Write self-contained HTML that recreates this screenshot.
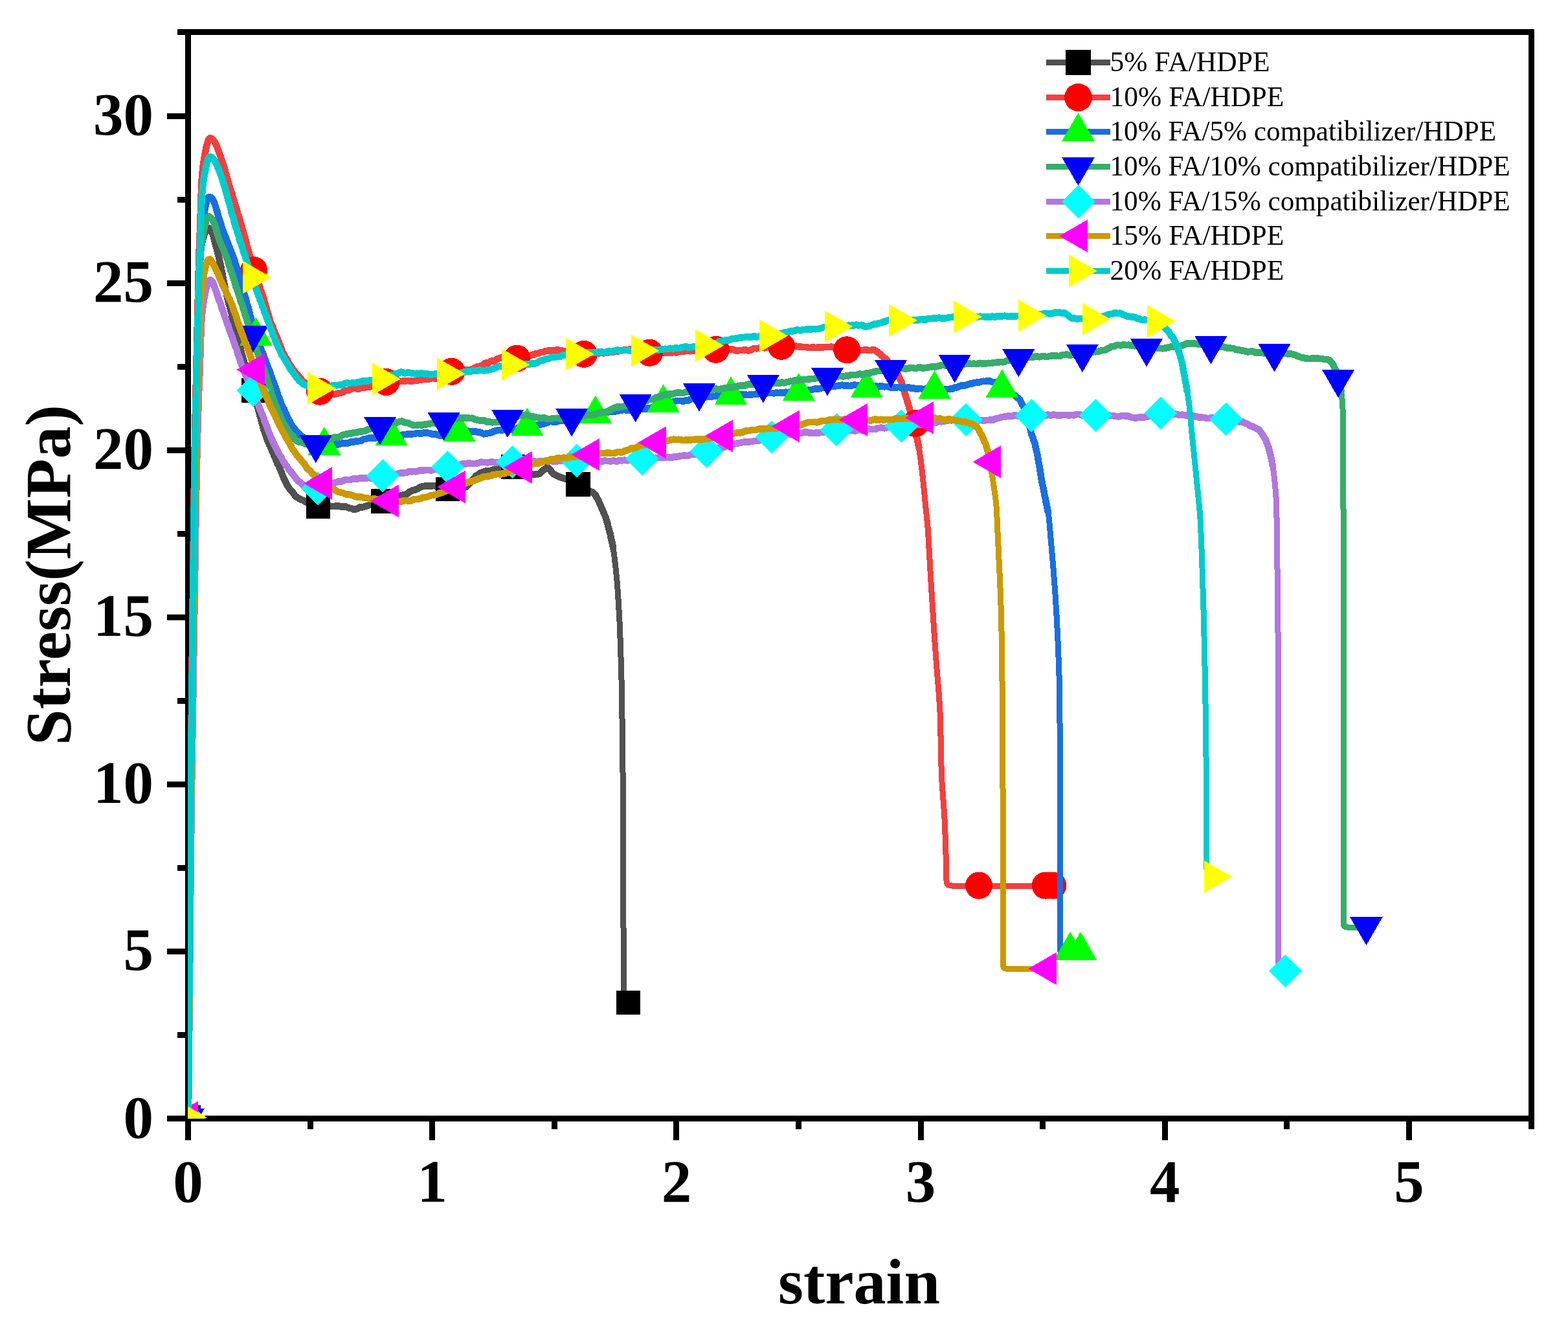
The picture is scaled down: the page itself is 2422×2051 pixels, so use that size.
<!DOCTYPE html>
<html lang="en"><head><meta charset="utf-8"><title>Stress-strain curves of FA/HDPE composites</title>
<style>
html,body{margin:0;padding:0;background:#fff;}
body{width:2422px;height:2051px;overflow:hidden;}
svg{display:block;}
text{font-family:"Liberation Serif","DejaVu Serif",serif;fill:#000;}
.tick{font-weight:bold;font-size:93px;}
.title{font-weight:bold;font-size:100px;}
.leg{font-size:44px;}
</style></head><body>
<svg width="2422" height="2051" viewBox="0 0 2422 2051" shape-rendering="crispEdges">
<rect width="2422" height="2051" fill="#fff"/>
<g stroke="#000" stroke-width="9" fill="none" stroke-linecap="butt">
<line x1="290.5" y1="45.0" x2="290.5" y2="1761.0"/>
<line x1="2365.5" y1="45.0" x2="2365.5" y2="1744.0"/>
<line x1="274.0" y1="49.5" x2="2370.0" y2="49.5"/>
<line x1="258.0" y1="1727.5" x2="2370.0" y2="1727.5"/>
<line x1="667.7" y1="1727.5" x2="667.7" y2="1761.0"/>
<line x1="1044.9" y1="1727.5" x2="1044.9" y2="1761.0"/>
<line x1="1422.1" y1="1727.5" x2="1422.1" y2="1761.0"/>
<line x1="1799.3" y1="1727.5" x2="1799.3" y2="1761.0"/>
<line x1="2176.5" y1="1727.5" x2="2176.5" y2="1761.0"/>
<line x1="479.1" y1="1727.5" x2="479.1" y2="1744.0"/>
<line x1="856.3" y1="1727.5" x2="856.3" y2="1744.0"/>
<line x1="1233.5" y1="1727.5" x2="1233.5" y2="1744.0"/>
<line x1="1610.7" y1="1727.5" x2="1610.7" y2="1744.0"/>
<line x1="1987.9" y1="1727.5" x2="1987.9" y2="1744.0"/>
<line x1="258.0" y1="1469.4" x2="290.5" y2="1469.4"/>
<line x1="258.0" y1="1211.3" x2="290.5" y2="1211.3"/>
<line x1="258.0" y1="953.2" x2="290.5" y2="953.2"/>
<line x1="258.0" y1="695.2" x2="290.5" y2="695.2"/>
<line x1="258.0" y1="437.1" x2="290.5" y2="437.1"/>
<line x1="258.0" y1="179.0" x2="290.5" y2="179.0"/>
<line x1="274.0" y1="1598.5" x2="290.5" y2="1598.5"/>
<line x1="274.0" y1="1340.4" x2="290.5" y2="1340.4"/>
<line x1="274.0" y1="1082.3" x2="290.5" y2="1082.3"/>
<line x1="274.0" y1="824.2" x2="290.5" y2="824.2"/>
<line x1="274.0" y1="566.1" x2="290.5" y2="566.1"/>
<line x1="274.0" y1="308.0" x2="290.5" y2="308.0"/>
</g>
<g class="tick" shape-rendering="auto">
<text x="290.5" y="1855.5" text-anchor="middle">0</text>
<text x="667.7" y="1855.5" text-anchor="middle">1</text>
<text x="1044.9" y="1855.5" text-anchor="middle">2</text>
<text x="1422.1" y="1855.5" text-anchor="middle">3</text>
<text x="1799.3" y="1855.5" text-anchor="middle">4</text>
<text x="2176.5" y="1855.5" text-anchor="middle">5</text>
<text x="237" y="1756.5" text-anchor="end">0</text>
<text x="237" y="1498.4" text-anchor="end">5</text>
<text x="237" y="1240.3" text-anchor="end">10</text>
<text x="237" y="982.2" text-anchor="end">15</text>
<text x="237" y="724.2" text-anchor="end">20</text>
<text x="237" y="466.1" text-anchor="end">25</text>
<text x="237" y="208.0" text-anchor="end">30</text>
</g>
<g class="title" shape-rendering="auto">
<text x="1327" y="2013" text-anchor="middle">strain</text>
<text transform="translate(107.5 888) rotate(-90)" text-anchor="middle">Stress(MPa)</text>
</g>
<defs><clipPath id="clip"><rect x="290.0" y="49.5" width="2075.5" height="1678.0"/></clipPath></defs>
<g clip-path="url(#clip)">
<polyline points="946.7,844.1 947.0,846.3 947.3,848.2 947.7,850.2 948.0,852.0 948.3,853.9 948.5,855.9 950.7,873.8 952.9,895.7 954.0,909.7 955.8,937.6 957.0,959.6 958.1,987.6 959.3,1023.6 960.1,1053.6 960.6,1081.6 961.4,1135.6 962.2,1209.6 963.4,1537.8 963.5,1539.9 963.5,1541.8 963.5,1543.8 963.5,1545.9 963.5,1547.8 964.5,1548.3 966.5,1548.4 968.5,1548.6 970.5,1548.8" fill="none" stroke="#515151" stroke-width="9" stroke-linejoin="round" stroke-linecap="butt" shape-rendering="crispEdges"/>
<polyline points="290.5,1727.5 290.7,1727.3 290.9,1717.3 291.3,1675.3 293.8,1321.2 294.5,1239.1 299.4,813.0 300.4,739.0 302.3,642.9 304.6,538.9 305.1,524.9 306.0,506.9 306.4,494.9 306.5,482.9 306.5,434.9 306.8,418.9 307.2,408.9 308.0,400.9 309.2,391.0 310.8,381.1 312.9,371.4 315.1,363.7 316.4,359.9 317.1,358.0 318.0,356.2 319.0,354.5 320.2,353.0 322.0,352.0 323.8,352.6 325.1,354.1 326.1,355.8 327.0,357.6 328.5,361.4 329.7,365.2 332.7,376.8 333.2,378.7 333.7,380.6 334.3,382.5 334.8,384.4 335.3,386.6 335.8,388.8 336.4,390.6 336.9,392.5 337.4,394.4 337.9,396.1 338.3,397.6 338.8,399.9 339.2,402.5 339.7,404.5 340.1,406.3 340.5,408.0 340.9,410.0 341.3,411.9 341.6,413.4 342.0,415.8 342.4,418.3 342.8,419.7 343.2,421.4 343.5,423.6 343.9,425.5 344.3,427.6 344.7,429.9 345.1,432.1 345.4,434.1 345.8,435.5 346.2,437.2 346.6,439.3 347.0,440.9 347.4,443.0 347.8,445.3 348.2,447.0 348.6,449.4 349.1,451.7 349.6,452.9 350.0,454.7 350.5,457.1 351.0,458.7 351.5,460.5 352.0,463.2 352.5,465.4 353.1,467.0 353.5,468.9 354.0,470.6 354.5,472.5 355.0,474.3 355.5,475.9 356.0,478.1 356.4,480.4 356.9,481.8 357.4,483.1 357.9,484.8 358.4,487.1 358.8,489.8 359.3,492.2 359.8,494.1 360.3,496.0 360.8,498.1 361.3,500.2 361.8,501.9 362.3,503.5 362.9,505.2 363.4,506.8 363.9,508.5 364.4,510.5 364.9,512.5 365.4,514.5 366.0,516.9 366.5,519.3 367.0,521.2 367.4,523.3 367.9,525.1 368.4,526.8 368.9,529.0 369.3,530.7 369.8,532.4 370.3,534.6 370.8,536.3 371.3,537.9 371.8,540.0 372.3,542.1 372.8,544.1 373.4,546.1 373.9,547.9 374.5,549.7 375.0,552.0 375.6,554.4 376.2,556.2 376.7,557.4 377.3,559.6 377.9,561.9 378.5,563.7 379.1,565.6 379.6,567.1 380.2,569.1 380.8,571.0 381.4,572.2 382.0,573.8 382.6,576.5 383.2,579.0 383.8,580.7 384.4,582.4 385.0,583.9 385.6,585.5 386.2,587.6 386.8,590.2 387.4,592.4 388.1,594.0 388.7,595.6 389.3,597.5 389.9,599.2 390.5,601.0 391.1,603.0 391.7,604.7 392.2,606.6 392.7,609.1 393.2,611.5 393.8,613.4 394.3,615.0 394.8,616.2 395.3,618.1 395.8,620.7 396.3,622.9 396.8,624.4 397.4,626.2 397.9,628.3 398.4,630.1 398.9,631.7 399.5,633.6 400.0,636.0 400.5,638.6 401.0,640.6 401.5,642.1 402.1,643.7 402.6,645.4 403.1,647.4 403.6,649.7 404.2,652.1 404.7,654.1 405.2,655.5 405.8,656.9 406.3,659.3 406.9,662.2 407.5,664.2 408.1,665.3 408.7,666.7 409.3,668.9 409.9,670.9 410.6,672.6 411.3,674.5 412.0,676.7 412.7,679.0 413.4,680.8 414.2,682.6 414.9,684.2 415.7,685.7 416.4,687.6 417.2,688.9 418.0,690.5 418.8,692.5 419.5,694.4 420.3,696.4 421.1,697.9 421.9,699.6 422.7,701.7 423.5,704.2 424.3,706.2 425.1,707.5 425.9,709.3 426.7,711.5 427.5,713.4 428.3,715.4 429.2,717.1 430.0,718.5 430.8,720.1 431.6,722.2 432.4,724.0 433.2,725.6 434.0,727.6 434.8,729.5 435.6,731.8 436.3,734.0 437.1,735.6 437.9,737.4 438.7,739.5 439.5,741.2 440.4,742.5 441.2,744.2 442.2,746.3 443.1,747.9 444.1,750.0 445.1,751.7 446.2,753.3 447.3,755.0 448.5,756.1 449.7,757.4 451.0,758.9 452.2,760.6 453.6,762.2 455.0,764.3 456.4,766.4 457.9,767.5 459.5,768.2 461.2,769.5 462.8,770.6 464.5,771.4 466.2,772.0 468.0,772.7 469.7,773.5 471.5,774.7 473.3,776.0 475.1,776.8 477.0,777.7 478.8,778.8 480.7,779.3 482.6,779.5 484.4,779.8 486.4,780.2 488.3,780.7 490.3,780.9 492.3,781.4 494.3,782.4 496.3,782.6 498.3,782.2 500.3,782.3 502.3,782.6 504.3,782.4 506.3,781.6 508.3,781.2 510.3,781.8 512.3,782.1 514.3,782.0 516.3,782.0 518.3,781.7 520.3,781.2 522.3,781.3 524.3,781.8 526.2,782.4 528.2,782.6 530.2,782.3 532.2,782.2 534.2,782.5 536.1,783.3 538.1,784.3 540.1,784.7 542.0,784.9 544.0,785.7 546.0,786.6 548.0,786.6 550.0,786.4 552.0,785.8 553.9,784.4 555.9,783.6 557.8,783.5 559.7,783.3 561.6,783.0 563.4,782.2 565.3,781.6 567.3,781.2 569.2,780.6 571.1,779.9 573.0,778.8 574.9,777.9 576.9,777.5 578.8,777.1 580.7,776.6 582.6,776.0 584.6,775.0 586.5,774.6 588.4,774.6 590.3,773.8 592.2,773.1 594.2,772.9 596.1,772.1 598.0,771.4 599.9,771.6 601.8,771.6 603.7,770.5 605.6,769.3 607.5,768.5 609.5,768.0 611.4,767.9 613.3,767.6 615.2,766.6 617.1,765.9 619.1,765.4 621.0,764.9 622.9,764.4 624.8,764.2 626.7,763.8 628.6,762.8 630.5,761.5 632.3,760.0 634.1,758.9 635.8,758.0 637.5,757.2 639.3,757.0 641.1,756.4 643.0,755.6 644.8,755.0 646.7,753.9 648.6,752.5 650.5,751.8 652.5,751.5 654.4,751.0 656.3,750.6 658.3,750.7 660.3,750.8 662.3,750.5 664.3,750.5 666.3,750.7 668.3,750.2 670.3,750.0 672.3,750.9 674.3,751.6 676.2,752.1 678.2,752.2 680.1,751.7 682.0,751.8 683.9,752.5 685.8,753.8 687.8,754.7 689.7,754.6 691.7,754.7 693.7,755.2 695.7,756.0 697.7,756.0 699.7,755.1 701.7,754.9 703.7,755.1 705.6,755.7 707.6,755.7 709.6,755.3 711.6,754.8 713.6,754.3 715.5,753.8 717.4,752.8 719.3,751.9 720.9,751.5 722.4,749.9 723.8,748.0 725.1,747.0 726.4,745.7 727.7,744.1 729.1,742.4 730.5,740.6 731.9,739.4 733.2,738.0 734.5,735.6 735.9,734.3 737.5,733.9 739.0,732.8 740.8,731.3 742.6,730.0 744.4,729.6 746.3,729.4 748.2,728.4 750.2,727.6 752.1,727.5 754.1,727.1 756.0,727.1 758.0,726.9 759.9,726.1 761.9,725.6 763.9,725.2 765.8,725.1 767.8,724.7 769.8,724.1 771.7,723.9 773.7,723.2 775.6,722.1 777.6,721.8 779.6,721.8 781.6,721.2 783.5,720.5 785.5,720.7 787.5,721.3 789.5,721.6 791.5,721.6 793.5,721.3 795.5,721.6 797.4,722.4 799.3,722.7 801.1,723.2 802.9,724.8 804.7,726.2 806.4,726.5 808.2,727.0 810.1,727.8 811.9,728.1 813.8,729.1 815.7,730.6 817.6,731.4 819.5,731.9 821.4,732.4 823.4,732.9 825.4,733.1 827.4,732.4 829.4,732.1 831.3,732.3 833.2,731.4 834.8,730.0 836.3,728.6 837.7,726.9 839.2,725.8 840.9,725.1 842.6,723.6 844.4,722.4 846.3,722.6 848.2,724.2 849.6,725.5 850.8,726.9 851.9,728.9 853.1,730.4 854.4,731.6 856.0,732.7 857.7,733.4 859.5,734.2 861.3,735.1 863.2,736.0 865.0,737.1 867.0,737.6 868.9,737.8 870.9,738.8 872.8,739.7 874.7,740.2 876.6,740.5 878.4,740.6 880.2,741.5 882.1,742.7 883.9,743.7 885.7,744.5 887.5,745.6 889.3,746.6 891.1,747.4 892.9,747.9 894.7,748.5 896.5,749.9 898.3,751.3 900.1,751.9 901.8,752.0 903.6,752.5 905.4,753.7 907.1,755.1 908.7,756.7 910.3,758.1 911.9,759.1 913.6,759.7 915.2,760.2 916.8,761.4 918.3,762.9 919.7,764.7 920.9,766.9 921.9,768.8 922.9,770.4 923.7,771.7 924.5,773.0 925.3,774.9 926.1,777.0 926.9,778.5 927.8,780.3 928.6,783.0 929.4,785.0 930.3,786.6 931.1,788.6 931.9,790.5 932.7,792.5 933.4,794.4 934.2,795.7 934.9,797.2 935.6,799.5 936.3,801.7 936.9,803.5 937.4,805.8 938.0,807.8 938.5,809.2 939.0,811.4 939.5,813.3 940.0,814.8 940.5,816.8 941.0,818.8 941.5,821.0 942.0,822.9 942.5,824.2 942.9,826.0 943.4,828.6 943.8,831.2 944.3,833.1 944.7,835.0 945.1,837.0 945.6,838.4 945.9,839.8 946.3,841.8 946.7,844.1 947.0,846.3 947.3,848.2" fill="none" stroke="#515151" stroke-width="10.6" stroke-linejoin="round" stroke-linecap="butt" shape-rendering="crispEdges"/>
<rect x="272.2" y="1707.2" width="37.5" height="37.5" fill="#000000"/>
<rect x="372.6" y="584.0" width="37.5" height="37.5" fill="#000000"/>
<rect x="472.9" y="763.2" width="37.5" height="37.5" fill="#000000"/>
<rect x="572.5" y="755.0" width="37.5" height="37.5" fill="#000000"/>
<rect x="672.6" y="736.5" width="37.5" height="37.5" fill="#000000"/>
<rect x="773.8" y="702.2" width="37.5" height="37.5" fill="#000000"/>
<rect x="874.0" y="729.0" width="37.5" height="37.5" fill="#000000"/>
<rect x="951.8" y="1529.8" width="37.5" height="37.5" fill="#000000"/>
<polyline points="1418.9,688.6 1419.2,690.6 1419.5,692.6 1419.8,694.7 1420.2,696.7 1420.5,698.8 1420.8,700.8 1423.2,718.7 1425.5,738.6 1429.8,782.4 1432.3,806.2 1433.0,814.2 1434.0,828.2 1436.1,866.1 1437.6,892.1 1443.3,982.0 1446.9,1031.9 1450.4,1073.7 1451.3,1087.7 1452.0,1099.7 1452.6,1115.7 1453.9,1179.7 1454.4,1195.7 1455.1,1209.7 1458.5,1255.6 1459.3,1269.6 1460.7,1307.5 1461.7,1345.5 1461.8,1353.5 1461.8,1355.5 1461.8,1357.7 1462.0,1359.8 1462.2,1361.6 1462.6,1363.7 1463.4,1365.6 1464.7,1366.7 1466.5,1367.2 1468.5,1367.6 1470.4,1368.0 1472.4,1368.2 1474.4,1368.2 1476.4,1368.4 1478.4,1368.4 1480.4,1368.4 1626.5,1368.4" fill="none" stroke="#F14040" stroke-width="9" stroke-linejoin="round" stroke-linecap="butt" shape-rendering="crispEdges"/>
<polyline points="290.5,1727.5 290.7,1727.3 290.9,1717.3 291.2,1675.3 293.6,1321.2 294.3,1239.1 299.5,775.0 300.5,707.0 301.6,648.9 304.0,540.9 307.3,396.9 309.0,354.9 311.2,286.9 312.1,271.0 313.8,255.0 315.6,243.2 318.2,229.4 320.1,221.6 321.4,217.8 322.1,216.0 323.1,214.2 324.7,213.3 326.6,213.9 328.1,215.2 329.5,216.6 330.7,218.2 331.8,219.9 332.8,221.7 333.7,223.5 334.6,225.1 335.4,227.2 336.2,229.5 336.9,231.6 337.6,233.1 338.3,234.7 339.0,237.1 339.7,239.1 340.3,240.6 341.0,242.6 341.6,244.7 342.3,246.4 342.9,248.0 343.5,249.6 344.1,251.4 344.7,252.9 345.2,254.5 345.8,256.6 346.4,258.9 346.9,261.0 347.5,263.2 348.0,265.0 348.6,266.7 349.1,268.2 349.7,270.2 350.2,272.5 350.8,274.3 351.4,276.3 351.9,278.7 352.5,280.6 353.1,282.1 353.7,284.1 354.2,286.6 354.8,288.3 355.4,289.9 356.0,292.1 356.6,293.9 357.1,295.3 357.7,296.8 358.3,298.5 358.9,300.8 359.5,303.5 360.1,305.7 360.6,306.9 361.2,308.2 361.8,310.5 362.4,313.6 363.0,315.6 363.6,316.6 364.1,318.0 364.7,320.2 365.3,322.0 365.9,323.8 366.5,326.4 367.0,328.6 367.6,330.6 368.2,332.8 368.8,334.4 369.3,335.4 369.9,336.9 370.5,339.5 371.0,342.3 371.6,344.0 372.2,345.5 372.7,347.6 373.3,349.4 373.8,351.1 374.4,353.2 374.9,354.8 375.5,356.4 376.0,358.4 376.6,360.7 377.1,362.8 377.6,364.5 378.2,366.0 378.7,367.8 379.2,369.6 379.8,371.5 380.3,373.7 380.8,376.4 381.3,379.1 381.9,380.9 382.4,382.2 382.9,383.4 383.4,385.2 384.0,387.6 384.5,389.6 385.0,391.5 385.5,393.5 386.0,395.3 386.6,397.4 387.1,399.3 387.6,401.4 388.2,403.9 388.7,405.6 389.2,407.1 389.8,409.1 390.3,410.4 390.9,412.0 391.4,414.1 392.0,416.1 392.6,417.9 393.2,420.0 393.7,422.2 394.3,424.2 395.0,425.7 395.6,427.5 396.2,430.0 396.9,432.4 397.6,433.9 398.2,435.0 398.9,436.9 399.6,439.2 400.3,440.7 401.0,442.4 401.7,444.7 402.3,447.0 403.0,448.8 403.6,450.2 404.2,451.9 404.8,454.1 405.5,455.8 406.1,457.7 406.7,459.8 407.3,461.5 407.9,463.9 408.5,466.3 409.1,467.9 409.7,469.8 410.3,472.2 410.9,474.3 411.5,475.7 412.0,477.5 412.6,480.2 413.2,481.8 413.7,483.0 414.3,484.9 414.8,487.2 415.4,489.3 416.0,490.9 416.6,493.2 417.3,495.8 417.9,497.9 418.6,499.5 419.3,500.8 420.1,501.8 420.8,503.2 421.6,505.5 422.3,508.3 423.1,510.0 423.9,511.5 424.6,513.8 425.4,515.4 426.1,516.7 426.9,518.6 427.6,520.5 428.4,522.3 429.1,524.6 429.8,526.4 430.5,528.2 431.2,530.5 432.0,532.2 432.7,533.5 433.4,535.2 434.2,537.1 435.0,539.3 435.8,541.6 436.6,543.7 437.5,545.4 438.4,546.7 439.3,548.3 440.2,550.5 441.2,552.3 442.2,553.4 443.2,554.7 444.3,556.8 445.3,559.4 446.3,561.2 447.4,562.5 448.5,564.1 449.6,565.9 450.7,567.7 451.8,569.8 453.0,571.2 454.2,572.0 455.3,573.9 456.5,575.9 457.8,577.0 459.0,577.9 460.2,579.5 461.5,581.4 462.8,582.8 464.2,584.2 465.6,585.9 467.0,587.9 468.5,589.9 470.0,591.0 471.6,591.3 473.2,592.3 474.8,594.1 476.4,595.2 478.1,596.2 479.7,597.8 481.4,598.8 483.1,599.1 484.8,599.9 486.5,600.8 488.3,602.1 490.1,603.0 492.0,603.2 493.8,603.6 495.8,604.4 497.7,605.2 499.6,605.5 501.5,605.8 503.5,606.6 505.4,607.4 507.4,607.9 509.4,608.2 511.4,608.9 513.4,609.1 515.4,608.8 517.4,608.8 519.4,608.3 521.3,607.7 523.2,607.2 525.2,607.1 527.0,606.8 528.9,606.0 530.8,605.0 532.7,603.8 534.6,603.0 536.4,603.1 538.4,602.9 540.3,602.0 542.2,600.9 544.2,600.1 546.2,599.7 548.2,599.6 550.2,599.8 552.2,600.7 554.2,600.7 556.2,599.6 558.2,598.9 560.2,598.8 562.1,598.7 564.1,598.5 566.1,597.9 568.1,597.5 570.0,597.5 571.9,597.3 573.8,596.8 575.8,596.3 577.7,595.5 579.5,594.7 581.4,594.1 583.3,593.6 585.2,592.6 587.2,592.0 589.1,591.8 591.0,590.8 593.0,589.8 594.9,589.9 596.9,590.4 598.9,590.7 600.8,590.1 602.8,589.5 604.8,589.2 606.8,588.4 608.8,587.9 610.8,588.4 612.8,589.2 614.8,589.1 616.8,588.6 618.8,589.0 620.8,589.1 622.8,588.6 624.8,588.7 626.8,588.3 628.8,587.9 630.8,588.1 632.8,588.5 634.8,588.7 636.8,588.5 638.8,588.2 640.8,587.9 642.8,588.0 644.8,587.6 646.8,586.5 648.8,586.2 650.7,586.5 652.7,586.2 654.7,585.5 656.7,585.4 658.7,585.2 660.7,585.2 662.7,585.4 664.7,585.0 666.6,584.1 668.6,584.0 670.6,584.4 672.6,584.3 674.6,584.2 676.5,583.4 678.5,582.0 680.4,581.2 682.2,581.0 684.0,580.6 685.8,579.6 687.5,578.5 689.2,577.3 691.0,575.9 692.8,574.9 694.6,574.7 696.5,574.3 698.5,573.6 700.4,573.3 702.4,572.8 704.4,572.3 706.4,572.0 708.4,572.0 710.4,572.5 712.3,572.6 714.3,572.1 716.3,571.2 718.3,571.0 720.3,571.1 722.3,570.9 724.3,571.4 726.3,571.3 728.2,570.5 730.2,569.7 732.1,569.0 734.0,568.2 735.9,566.9 737.8,566.2 739.6,566.0 741.4,565.7 743.3,565.7 745.1,564.6 746.9,562.6 748.7,561.3 750.6,560.5 752.4,560.4 754.3,560.4 756.1,559.2 758.0,557.8 759.8,557.6 761.7,557.8 763.5,557.3 765.4,556.4 767.2,555.0 769.1,554.0 771.0,553.4 772.9,552.8 774.8,552.0 776.8,550.8 778.7,550.4 780.7,550.8 782.7,550.5 784.7,550.8 786.6,551.3 788.5,551.7 790.5,552.4 792.4,553.4 794.4,554.1 796.4,554.3 798.4,554.5 800.4,553.8 802.3,552.7 804.3,552.3 806.2,552.0 808.2,551.4 810.1,551.5 812.1,551.2 814.0,550.3 815.9,550.2 817.8,549.8 819.8,548.8 821.7,548.1 823.6,547.6 825.6,547.3 827.5,546.4 829.5,546.0 831.4,545.9 833.4,545.0 835.3,544.1 837.3,544.0 839.2,543.6 841.2,542.6 843.1,541.8 845.1,541.8 847.0,541.6 849.0,541.5 851.0,541.8 853.0,541.7 855.0,541.1 857.0,540.9 859.0,540.8 861.0,540.2 863.0,540.6 865.0,541.4 867.0,541.5 868.9,541.7 870.9,542.0 872.9,542.1 874.8,542.6 876.8,543.1 878.8,543.5 880.7,543.7 882.7,544.1 884.7,544.4 886.6,544.2 888.6,544.2 890.6,544.8 892.6,545.7 894.6,546.6 896.6,547.0 898.6,546.5 900.5,546.5 902.5,547.2 904.5,547.5 906.5,547.3 908.5,546.5 910.5,545.9 912.5,546.5 914.5,546.8 916.5,546.0 918.5,546.1 920.5,546.3 922.5,545.9 924.5,545.6 926.5,544.9 928.5,544.5 930.5,544.8 932.5,545.4 934.5,545.0 936.5,544.5 938.4,544.7 940.4,544.3 942.4,543.8 944.4,543.9 946.4,544.1 948.4,543.6 950.4,542.9 952.4,543.1 954.4,542.7 956.3,541.8 958.3,541.2 960.3,541.2 962.3,541.2 964.2,540.4 966.2,540.0 968.2,540.6 970.2,540.4 972.2,539.6 974.2,539.0 976.2,538.9 978.2,539.6 980.1,540.6 982.1,540.7 984.1,541.1 986.0,542.4 988.0,543.3 989.9,543.8 991.9,544.1 993.8,544.1 995.8,543.9 997.8,544.4 999.8,544.7 1001.8,544.7 1003.8,545.2 1005.7,545.5 1007.7,545.3 1009.7,545.8 1011.7,546.1 1013.8,545.8 1015.8,545.8 1017.8,545.8 1019.8,545.1 1021.8,544.7 1023.8,544.7 1025.8,544.6 1027.7,544.5 1029.7,544.4 1031.7,544.4 1033.7,544.4 1035.7,544.8 1037.7,544.7 1039.7,543.5 1041.7,543.4 1043.7,544.5 1045.7,544.3 1047.7,543.2 1049.7,543.0 1051.7,542.5 1053.7,542.2 1055.7,542.8 1057.7,542.4 1059.6,541.4 1061.6,541.3 1063.6,541.7 1065.6,542.3 1067.6,542.0 1069.6,541.2 1071.6,541.2 1073.6,541.2 1075.6,540.8 1077.6,540.6 1079.6,540.1 1081.6,539.9 1083.6,540.6 1085.6,541.2 1087.6,541.1 1089.6,540.2 1091.6,539.8 1093.6,540.2 1095.6,539.7 1097.6,539.0 1099.6,539.2 1101.6,539.7 1103.6,539.9 1105.6,539.7 1107.6,539.0 1109.6,539.1 1111.6,539.8 1113.6,539.4 1115.6,538.9 1117.6,539.2 1119.6,540.2 1121.6,540.6 1123.6,540.0 1125.6,539.7 1127.6,539.8 1129.6,539.6 1131.6,539.6 1133.6,540.3 1135.6,541.3 1137.6,541.8 1139.6,541.5 1141.6,541.1 1143.6,541.0 1145.6,541.2 1147.6,541.0 1149.6,540.4 1151.6,540.4 1153.5,541.0 1155.5,541.4 1157.5,541.3 1159.5,540.7 1161.5,539.6 1163.5,538.5 1165.4,537.9 1167.4,538.1 1169.4,538.3 1171.4,537.9 1173.4,537.4 1175.3,536.9 1177.3,536.6 1179.3,536.8 1181.3,537.3 1183.3,537.1 1185.3,536.1 1187.3,536.0 1189.2,536.8 1191.2,537.0 1193.2,536.5 1195.2,535.6 1197.2,534.7 1199.2,534.8 1201.2,535.6 1203.2,535.8 1205.2,535.5 1207.2,535.4 1209.2,535.3 1211.2,534.7 1213.2,534.7 1215.2,535.2 1217.2,535.3 1219.2,534.6 1221.2,533.9 1223.2,533.9 1225.2,534.0 1227.2,534.1 1229.2,534.5 1231.2,535.1 1233.2,535.3 1235.2,535.5 1237.2,535.7 1239.2,535.8 1241.2,535.9 1243.2,536.1 1245.2,536.2 1247.2,536.6 1249.2,537.1 1251.2,537.0 1253.1,536.7 1255.1,536.8 1257.1,536.6 1259.1,537.0 1261.1,537.2 1263.1,536.5 1265.1,536.2 1267.1,536.3 1269.1,536.6 1271.1,536.5 1273.0,535.8 1275.0,535.8 1277.0,536.0 1279.0,535.8 1281.0,535.9 1283.0,535.7 1285.0,535.7 1286.9,536.4 1288.9,536.4 1290.9,537.0 1292.8,537.9 1294.8,538.2 1296.7,538.9 1298.7,539.1 1300.7,538.6 1302.6,539.1 1304.6,540.2 1306.6,540.5 1308.6,540.4 1310.6,540.1 1312.6,540.1 1314.6,540.1 1316.6,540.2 1318.5,539.9 1320.5,540.3 1322.5,541.6 1324.5,542.1 1326.5,541.8 1328.5,541.2 1330.6,540.9 1332.6,541.1 1334.5,540.5 1336.5,540.0 1338.5,540.3 1340.5,540.8 1342.5,541.1 1344.5,541.1 1346.5,540.5 1348.5,540.1 1350.5,540.3 1352.4,541.6 1354.1,543.0 1355.8,543.8 1357.4,545.1 1358.9,546.4 1360.4,547.6 1361.8,549.4 1363.3,550.6 1364.9,551.5 1366.3,552.9 1367.8,553.9 1369.3,555.3 1370.8,557.4 1372.2,559.1 1373.6,560.7 1375.0,562.3 1376.4,564.0 1377.7,565.2 1378.9,566.5 1380.2,568.0 1381.3,569.0 1382.5,570.1 1383.5,571.7 1384.6,573.7 1385.6,575.6 1386.6,577.4 1387.5,579.7 1388.5,581.6 1389.3,583.2 1390.2,585.6 1391.0,587.6 1391.8,588.7 1392.6,590.3 1393.3,592.8 1394.0,595.0 1394.6,596.5 1395.2,597.5 1395.8,598.9 1396.3,601.5 1396.8,604.3 1397.3,606.7 1397.9,608.3 1398.4,609.9 1398.9,611.6 1399.4,613.2 1400.0,614.9 1400.6,616.8 1401.2,619.1 1401.8,620.8 1402.4,622.5 1402.9,624.8 1403.5,626.7 1404.1,628.4 1404.7,630.5 1405.3,632.8 1405.8,634.8 1406.4,636.7 1406.9,638.1 1407.5,640.2 1408.0,642.7 1408.5,644.7 1409.0,646.7 1409.5,648.7 1410.0,650.0 1410.5,651.3 1411.0,653.2 1411.5,655.1 1412.0,657.2 1412.4,659.4 1412.9,661.5 1413.4,663.8 1413.8,665.9 1414.3,668.1 1414.8,670.2 1415.2,672.1 1415.6,674.1 1416.1,676.0 1416.5,677.4 1416.9,678.9 1417.3,680.7 1417.7,682.7 1418.1,684.8 1418.5,686.8 1418.9,688.6 1419.2,690.6 1419.5,692.6" fill="none" stroke="#F14040" stroke-width="10.6" stroke-linejoin="round" stroke-linecap="butt" shape-rendering="crispEdges"/>
<circle cx="291.0" cy="1726.0" r="21.0" fill="#FF0000"/>
<circle cx="392.1" cy="417.2" r="21.0" fill="#FF0000"/>
<circle cx="494.1" cy="604.7" r="21.0" fill="#FF0000"/>
<circle cx="596.5" cy="590.0" r="21.0" fill="#FF0000"/>
<circle cx="697.6" cy="573.8" r="21.0" fill="#FF0000"/>
<circle cx="798.5" cy="553.6" r="21.0" fill="#FF0000"/>
<circle cx="901.8" cy="546.8" r="21.0" fill="#FF0000"/>
<circle cx="1003.4" cy="544.8" r="21.0" fill="#FF0000"/>
<circle cx="1105.8" cy="539.8" r="21.0" fill="#FF0000"/>
<circle cx="1206.9" cy="534.8" r="21.0" fill="#FF0000"/>
<circle cx="1308.2" cy="540.3" r="21.0" fill="#FF0000"/>
<circle cx="1414.0" cy="654.0" r="21.0" fill="#FF0000"/>
<circle cx="1512.0" cy="1367.6" r="21.0" fill="#FF0000"/>
<circle cx="1614.8" cy="1367.6" r="21.0" fill="#FF0000"/>
<circle cx="1626.5" cy="1367.6" r="21.0" fill="#FF0000"/>
<polyline points="1618.4,788.1 1618.8,790.2 1619.1,792.4 1619.4,794.3 1619.7,796.0 1620.0,798.0 1620.3,800.0 1627.2,879.7 1629.9,915.6 1632.2,953.6 1634.1,991.5 1635.6,1029.5 1636.2,1049.5 1636.8,1091.5 1637.2,1139.5 1637.3,1457.7 1637.3,1459.6 1637.3,1461.6 1637.3,1463.6 1637.3,1465.7 1637.3,1467.9 1639.0,1468.2 1641.0,1468.2 1643.0,1468.2 1645.0,1468.2 1647.0,1468.1 1649.0,1468.0 1669.0,1468.0" fill="none" stroke="#1A6FDF" stroke-width="9" stroke-linejoin="round" stroke-linecap="butt" shape-rendering="crispEdges"/>
<polyline points="290.5,1727.5 290.7,1727.3 290.9,1717.3 291.3,1675.3 293.8,1321.2 294.5,1239.1 299.6,813.0 300.6,741.0 301.8,674.9 305.0,532.9 306.3,482.9 306.8,468.9 307.8,446.9 309.6,388.9 310.4,370.9 311.0,361.0 311.6,355.0 312.7,345.0 313.9,337.1 316.4,323.3 317.6,317.5 318.6,313.6 319.8,309.8 320.5,307.9 321.4,306.1 322.6,304.6 324.5,304.4 326.3,305.3 327.7,306.7 328.8,308.4 329.7,310.2 331.3,313.8 332.6,317.6 333.2,319.6 333.8,321.4 334.3,323.5 334.9,325.3 335.4,326.8 336.0,328.7 336.5,331.3 337.0,333.8 337.6,335.3 338.2,336.8 338.7,338.7 339.3,340.5 339.9,342.5 340.5,344.1 341.1,345.7 341.7,348.0 342.4,350.5 343.1,352.8 343.8,354.4 344.4,355.8 345.1,357.6 345.9,359.4 346.6,361.6 347.3,363.7 348.0,365.2 348.8,366.8 349.5,369.0 350.2,371.1 351.0,372.7 351.7,374.2 352.5,376.7 353.2,379.1 353.9,380.2 354.7,381.8 355.4,384.2 356.1,385.9 356.8,387.3 357.5,389.7 358.3,391.6 358.9,392.9 359.6,394.9 360.3,397.5 361.0,399.2 361.6,400.3 362.3,402.4 362.9,404.9 363.5,407.0 364.1,409.0 364.7,410.8 365.3,412.5 365.9,414.0 366.5,415.8 367.1,418.1 367.7,419.7 368.2,421.2 368.8,423.8 369.4,426.1 369.9,427.5 370.5,429.0 371.0,431.1 371.6,433.3 372.1,435.2 372.7,436.6 373.2,438.2 373.8,439.8 374.3,441.7 374.9,444.3 375.4,446.8 376.0,448.5 376.5,450.5 377.1,453.1 377.6,455.4 378.2,457.0 378.7,458.1 379.2,459.9 379.7,462.2 380.3,463.9 380.8,466.4 381.3,468.9 381.8,470.5 382.4,471.9 382.9,473.4 383.4,474.9 383.9,476.7 384.5,479.0 385.0,481.1 385.5,483.3 386.0,486.1 386.6,488.1 387.1,489.2 387.6,491.3 388.2,493.7 388.7,495.2 389.3,496.9 389.8,499.1 390.4,501.0 390.9,503.0 391.5,504.8 392.1,506.4 392.7,508.3 393.3,510.1 394.0,512.0 394.6,514.0 395.3,516.0 395.9,518.1 396.6,520.0 397.2,521.6 397.9,523.8 398.6,526.3 399.2,528.0 399.9,529.4 400.6,530.9 401.3,532.9 401.9,535.3 402.6,537.3 403.3,538.7 404.0,540.7 404.7,542.9 405.4,544.3 406.1,545.2 406.7,547.2 407.4,549.9 408.1,551.9 408.8,553.6 409.5,555.0 410.2,556.8 411.0,559.2 411.7,561.0 412.4,562.7 413.1,564.4 413.8,566.4 414.5,569.3 415.2,571.0 415.9,571.5 416.6,573.0 417.4,575.8 418.1,578.5 418.8,580.3 419.5,582.1 420.2,583.5 420.9,585.5 421.6,587.8 422.3,589.4 422.9,590.8 423.6,592.8 424.3,594.8 424.9,596.4 425.6,597.8 426.2,600.0 426.9,602.3 427.5,603.8 428.2,605.3 428.8,607.8 429.5,610.8 430.2,612.8 430.9,613.8 431.6,615.0 432.4,617.3 433.1,619.8 433.9,621.7 434.7,623.8 435.5,625.8 436.3,627.6 437.1,629.2 437.9,630.3 438.8,631.8 439.6,634.4 440.5,636.7 441.3,637.9 442.1,639.4 443.0,641.8 443.8,644.1 444.7,645.8 445.6,647.4 446.5,648.8 447.4,650.0 448.4,652.1 449.4,654.7 450.4,656.6 451.5,657.8 452.6,659.1 453.7,660.5 454.8,661.7 456.0,663.4 457.2,665.6 458.5,667.0 459.8,668.0 461.1,669.1 462.6,670.3 464.1,671.8 465.6,673.5 467.2,674.6 468.8,675.9 470.5,677.3 472.1,678.3 473.8,679.7 475.5,680.9 477.2,682.2 478.9,683.4 480.7,683.7 482.4,684.1 484.2,685.3 486.0,686.1 487.9,686.6 489.9,687.3 491.8,687.8 493.8,687.7 495.8,687.5 497.8,687.3 499.8,687.4 501.8,688.2 503.8,688.2 505.8,687.4 507.8,687.3 509.8,687.5 511.8,687.2 513.8,686.4 515.8,685.8 517.7,686.0 519.7,686.6 521.7,686.8 523.7,686.2 525.7,685.2 527.7,684.7 529.7,684.7 531.7,684.6 533.7,684.4 535.6,684.5 537.6,684.5 539.6,683.6 541.6,682.6 543.5,682.3 545.5,682.6 547.4,682.2 549.4,681.4 551.3,681.4 553.3,681.5 555.2,681.1 557.2,680.8 559.1,680.0 561.1,678.6 563.0,678.0 565.0,678.2 566.9,677.4 568.9,676.7 570.9,676.8 572.9,676.5 574.9,676.2 576.8,676.5 578.8,676.5 580.8,676.3 582.8,675.2 584.8,674.8 586.8,675.3 588.8,675.2 590.8,675.2 592.8,675.0 594.8,674.4 596.8,673.7 598.8,673.6 600.8,674.4 602.7,674.9 604.7,674.8 606.7,674.6 608.7,674.6 610.7,674.1 612.7,673.0 614.7,672.2 616.7,672.4 618.7,672.6 620.7,672.0 622.7,671.2 624.7,670.9 626.6,670.9 628.6,670.7 630.6,670.5 632.5,670.6 634.5,670.8 636.5,670.5 638.5,670.1 640.5,670.0 642.5,669.4 644.5,669.0 646.5,669.2 648.5,669.7 650.5,669.7 652.5,669.2 654.5,668.7 656.5,668.5 658.5,668.5 660.5,668.7 662.5,668.9 664.5,669.4 666.5,670.1 668.5,670.6 670.4,670.4 672.4,670.4 674.4,670.9 676.4,672.0 678.4,672.5 680.4,672.5 682.3,672.4 684.3,672.3 686.3,672.2 688.3,672.6 690.3,673.0 692.3,673.0 694.3,672.7 696.3,671.8 698.2,670.5 700.2,670.2 702.1,670.4 704.0,670.3 705.9,669.4 707.8,668.4 709.7,668.0 711.7,667.9 713.6,667.7 715.6,666.6 717.6,665.9 719.5,666.1 721.5,665.6 723.5,665.8 725.5,666.6 727.5,666.8 729.5,666.5 731.5,666.3 733.5,666.3 735.5,666.7 737.5,667.4 739.4,667.5 741.3,667.6 743.2,668.2 745.1,669.3 747.0,670.3 749.0,669.9 751.0,669.5 752.9,669.3 754.9,668.9 756.7,668.6 758.6,668.1 760.6,667.3 762.5,666.4 764.4,665.6 766.3,665.3 768.3,664.9 770.3,663.9 772.3,663.8 774.2,664.5 776.2,664.6 778.2,664.1 780.2,663.4 782.2,663.3 784.2,663.3 786.2,663.4 788.2,663.7 790.2,663.8 792.2,663.4 794.2,663.1 796.1,662.8 798.1,661.9 800.1,660.9 802.0,660.2 804.0,659.9 806.0,660.3 807.9,660.4 809.9,659.5 811.8,658.8 813.8,658.9 815.8,658.7 817.7,658.0 819.7,657.3 821.7,656.7 823.6,656.3 825.6,655.8 827.6,655.8 829.6,656.2 831.5,655.8 833.5,655.3 835.5,655.3 837.4,655.2 839.4,654.7 841.4,654.0 843.3,653.6 845.3,652.9 847.3,651.8 849.2,651.1 851.2,650.9 853.2,651.2 855.2,651.9 857.1,651.7 859.1,651.4 861.1,650.9 863.1,650.2 865.1,650.0 867.1,649.7 869.0,649.4 871.0,649.6 873.0,649.5 875.0,649.1 877.0,648.9 878.9,648.5 880.9,648.0 882.9,647.7 884.9,647.5 886.8,647.4 888.8,647.0 890.8,646.6 892.7,646.3 894.7,645.3 896.7,644.4 898.6,644.1 900.6,644.1 902.5,643.9 904.5,643.1 906.5,642.7 908.4,642.2 910.4,641.4 912.3,641.4 914.2,641.0 916.2,640.6 918.1,640.3 920.1,639.4 922.1,639.0 924.0,638.7 926.0,638.3 928.0,638.2 930.0,638.4 931.9,638.0 933.9,636.9 935.9,636.8 937.9,636.9 939.9,636.1 941.8,636.0 943.8,636.1 945.8,635.4 947.8,635.3 949.8,635.5 951.8,634.9 953.7,634.5 955.7,634.4 957.7,633.6 959.7,633.1 961.7,633.4 963.7,633.1 965.7,633.3 967.7,633.8 969.7,633.7 971.7,633.6 973.7,633.4 975.7,632.9 977.7,633.2 979.7,633.2 981.7,632.4 983.7,631.9 985.7,632.1 987.6,631.9 989.6,631.5 991.6,631.6 993.6,631.6 995.6,632.0 997.6,631.8 999.6,630.6 1001.6,629.9 1003.6,630.1 1005.5,630.3 1007.5,629.4 1009.4,628.5 1011.4,627.9 1013.3,627.9 1015.2,627.8 1017.1,626.5 1019.0,625.4 1020.9,625.5 1022.9,625.3 1024.8,624.0 1026.7,623.1 1028.6,623.1 1030.6,623.1 1032.5,622.1 1034.5,621.3 1036.4,621.1 1038.4,620.8 1040.3,620.4 1042.3,619.9 1044.3,619.3 1046.3,619.1 1048.2,619.0 1050.2,618.8 1052.2,618.8 1054.2,619.5 1056.2,619.6 1058.2,618.7 1060.2,618.2 1062.2,618.7 1064.1,618.4 1066.1,617.0 1068.1,616.2 1070.1,615.9 1072.1,616.1 1074.0,616.8 1076.0,616.8 1078.0,615.9 1080.0,615.3 1081.9,615.5 1083.9,615.3 1085.9,614.5 1087.9,613.9 1089.8,613.4 1091.8,613.1 1093.8,612.6 1095.8,612.4 1097.8,612.8 1099.7,612.6 1101.7,612.1 1103.7,611.9 1105.7,611.6 1107.7,611.3 1109.7,611.7 1111.7,611.6 1113.7,610.5 1115.7,610.0 1117.7,610.1 1119.7,610.7 1121.7,610.5 1123.7,610.2 1125.7,611.1 1127.7,611.2 1129.7,610.5 1131.7,610.1 1133.7,609.8 1135.7,609.8 1137.7,609.4 1139.7,608.8 1141.7,609.1 1143.7,609.1 1145.7,609.1 1147.7,609.5 1149.7,609.4 1151.6,609.4 1153.6,610.0 1155.6,610.1 1157.6,609.6 1159.6,609.5 1161.6,609.4 1163.6,609.1 1165.6,609.0 1167.6,608.7 1169.6,608.4 1171.6,608.4 1173.6,607.9 1175.6,607.5 1177.6,608.0 1179.6,608.1 1181.6,608.2 1183.6,607.9 1185.6,606.9 1187.6,606.5 1189.6,606.8 1191.6,607.1 1193.6,607.2 1195.6,607.3 1197.6,606.8 1199.6,606.5 1201.6,607.0 1203.6,607.0 1205.6,606.4 1207.6,606.5 1209.6,607.0 1211.6,606.5 1213.6,605.7 1215.6,606.0 1217.6,606.5 1219.6,605.6 1221.6,604.7 1223.6,604.4 1225.6,604.2 1227.6,604.3 1229.6,605.0 1231.6,605.8 1233.6,606.0 1235.5,605.3 1237.5,604.6 1239.5,603.9 1241.5,603.5 1243.5,603.4 1245.5,603.2 1247.4,602.8 1249.4,602.3 1251.4,602.0 1253.4,601.9 1255.3,601.6 1257.3,600.8 1259.3,600.4 1261.2,600.6 1263.2,600.5 1265.2,600.2 1267.1,600.0 1269.1,599.3 1271.1,598.5 1273.1,598.5 1275.0,598.6 1277.0,598.0 1279.0,597.6 1281.0,597.8 1283.0,597.4 1285.0,596.8 1286.9,596.8 1288.9,596.7 1290.9,596.3 1292.9,596.0 1294.9,595.8 1296.9,595.5 1298.9,594.9 1300.9,594.7 1302.9,595.2 1304.9,595.9 1306.9,595.6 1308.9,595.4 1310.9,595.8 1312.9,595.9 1314.9,595.6 1316.9,595.1 1318.9,594.7 1320.9,594.7 1322.9,595.0 1324.9,595.5 1326.9,595.7 1328.9,595.6 1330.9,595.3 1332.9,595.2 1334.9,595.5 1336.9,595.6 1338.9,595.6 1340.9,596.4 1342.9,596.9 1344.9,596.4 1346.9,596.4 1348.9,596.6 1350.9,596.0 1352.9,596.0 1354.9,597.0 1356.9,597.3 1358.9,596.5 1360.9,596.3 1362.9,596.8 1364.9,597.2 1366.9,597.2 1368.9,596.9 1370.9,596.8 1372.9,597.3 1374.9,598.3 1376.9,598.7 1378.9,598.4 1380.9,598.5 1382.9,598.9 1384.9,598.6 1386.9,597.8 1388.9,597.9 1390.9,598.5 1392.9,598.3 1394.9,598.7 1396.9,599.3 1398.9,599.2 1400.9,598.8 1402.9,598.4 1404.9,598.7 1406.9,599.8 1408.9,599.8 1410.9,599.5 1412.9,600.4 1414.8,600.6 1416.8,600.4 1418.8,600.4 1420.8,600.0 1422.8,600.2 1424.8,601.1 1426.8,601.1 1428.8,600.8 1430.8,600.6 1432.8,600.5 1434.8,600.8 1436.8,601.3 1438.8,601.5 1440.8,601.6 1442.8,601.8 1444.8,601.5 1446.8,601.6 1448.8,602.3 1450.8,601.9 1452.8,601.3 1454.8,601.3 1456.8,600.9 1458.8,601.2 1460.8,601.6 1462.8,601.3 1464.7,601.1 1466.7,600.8 1468.7,600.4 1470.7,600.6 1472.6,599.8 1474.6,598.6 1476.5,598.4 1478.4,598.3 1480.3,597.5 1482.2,596.5 1484.1,595.8 1486.0,595.3 1487.9,595.3 1489.9,595.6 1491.8,595.1 1493.7,594.3 1495.7,593.6 1497.7,592.7 1499.6,592.6 1501.6,592.4 1503.6,591.6 1505.5,591.3 1507.5,590.8 1509.5,590.5 1511.5,590.7 1513.4,590.3 1515.4,589.5 1517.4,588.9 1519.4,588.8 1521.3,589.1 1523.3,588.7 1525.3,588.2 1527.3,588.3 1529.3,588.6 1531.3,589.4 1533.2,590.0 1535.2,590.0 1537.1,590.2 1539.0,590.8 1540.9,591.6 1542.8,591.8 1544.7,592.3 1546.5,593.8 1548.3,594.9 1549.8,595.5 1551.3,596.9 1552.8,598.7 1554.2,599.6 1555.7,600.8 1557.1,602.7 1558.5,603.9 1559.9,605.2 1561.4,606.9 1562.9,608.0 1564.5,608.8 1566.2,609.9 1567.9,611.1 1569.5,612.4 1571.1,614.0 1572.6,614.9 1574.0,615.7 1575.3,617.2 1576.5,619.4 1577.5,621.8 1578.5,623.6 1579.4,625.6 1580.3,627.2 1581.1,628.4 1581.9,630.6 1582.6,632.7 1583.4,634.4 1584.1,636.5 1584.7,638.3 1585.4,640.3 1586.0,642.3 1586.5,643.9 1587.1,645.8 1587.6,647.5 1588.1,649.1 1588.6,650.7 1589.1,652.7 1589.6,655.0 1590.1,657.8 1590.5,659.8 1591.1,660.6 1591.6,662.3 1592.1,665.2 1592.7,668.0 1593.2,670.1 1593.8,671.7 1594.4,673.3 1595.0,674.5 1595.6,676.1 1596.2,678.7 1596.8,680.7 1597.4,681.8 1598.0,683.1 1598.5,685.1 1599.1,687.8 1599.6,690.5 1600.0,692.5 1600.5,694.1 1600.9,695.9 1601.3,697.7 1601.7,699.2 1602.1,701.1 1602.5,703.2 1602.9,705.4 1603.2,707.6 1603.6,709.4 1603.9,711.6 1604.3,713.9 1604.6,715.5 1605.0,717.5 1605.3,719.5 1605.7,721.2 1606.0,723.2 1606.3,725.3 1606.6,727.3 1606.9,729.2 1607.3,731.2 1607.6,733.1 1607.9,735.1 1608.2,737.2 1608.6,739.1 1608.9,741.0 1609.2,742.9 1609.6,745.0 1610.0,747.2 1610.3,748.9 1610.7,750.4 1611.1,751.9 1611.5,753.6 1611.9,755.7 1612.3,757.9 1612.7,759.8 1613.1,762.3 1613.5,765.1 1613.9,767.1 1614.3,768.2 1614.7,769.4 1615.1,771.8 1615.5,774.8 1616.0,776.7 1616.4,778.6 1616.8,780.8 1617.2,782.8 1617.6,784.6 1618.0,786.4 1618.4,788.1 1618.8,790.2 1619.1,792.4" fill="none" stroke="#1A6FDF" stroke-width="10.6" stroke-linejoin="round" stroke-linecap="butt" shape-rendering="crispEdges"/>
<polygon points="291.0,1696.9 265.8,1740.5 316.2,1740.5" fill="#00FF00"/>
<polygon points="395.3,489.9 370.1,533.5 420.5,533.5" fill="#00FF00"/>
<polygon points="500.9,658.9 475.7,702.5 526.1,702.5" fill="#00FF00"/>
<polygon points="604.5,644.6 579.3,688.2 629.7,688.2" fill="#00FF00"/>
<polygon points="709.4,638.8 684.2,682.4 734.6,682.4" fill="#00FF00"/>
<polygon points="814.4,629.5 789.2,673.1 839.6,673.1" fill="#00FF00"/>
<polygon points="919.8,610.5 894.6,654.1 945.0,654.1" fill="#00FF00"/>
<polygon points="1024.6,593.3 999.4,636.9 1049.8,636.9" fill="#00FF00"/>
<polygon points="1129.0,581.3 1103.8,624.9 1154.2,624.9" fill="#00FF00"/>
<polygon points="1233.8,575.6 1208.6,619.2 1259.0,619.2" fill="#00FF00"/>
<polygon points="1338.7,570.8 1313.5,614.4 1363.9,614.4" fill="#00FF00"/>
<polygon points="1443.5,572.1 1418.3,615.8 1468.7,615.8" fill="#00FF00"/>
<polygon points="1547.8,570.1 1522.6,613.8 1573.0,613.8" fill="#00FF00"/>
<polygon points="1653.1,1438.9 1627.9,1482.5 1678.3,1482.5" fill="#00FF00"/>
<polygon points="1669.0,1438.9 1643.8,1482.5 1694.2,1482.5" fill="#00FF00"/>
<polyline points="2071.3,603.1 2071.7,605.3 2072.0,607.1 2072.3,609.0 2072.5,611.2 2072.7,613.3 2072.9,615.2 2073.4,621.2 2074.0,631.2 2074.3,645.2 2074.7,689.2 2074.9,747.2 2075.1,821.2 2075.2,1419.4 2075.2,1421.3 2075.2,1423.3 2075.2,1425.2 2075.3,1427.3 2075.6,1429.5 2076.6,1431.0 2078.4,1431.7 2080.4,1431.9 2082.4,1432.1 2084.4,1432.1 2086.4,1432.0 2088.4,1432.0 2090.4,1432.0 2110.4,1432.0" fill="none" stroke="#37AD6B" stroke-width="9" stroke-linejoin="round" stroke-linecap="butt" shape-rendering="crispEdges"/>
<polyline points="290.5,1727.5 290.7,1727.3 290.9,1717.3 291.2,1675.3 293.7,1321.2 294.4,1239.2 299.4,813.2 300.3,739.1 301.5,675.1 304.4,541.1 305.2,513.2 306.7,477.2 308.5,419.2 309.2,401.2 309.9,391.2 310.5,385.3 311.6,375.3 313.1,365.4 315.2,353.6 316.5,347.7 317.5,343.9 318.0,341.9 319.4,338.2 320.2,336.4 321.4,334.7 323.2,334.5 325.0,335.5 326.4,336.9 327.6,338.5 328.6,340.2 330.3,343.8 332.3,349.5 332.9,351.4 333.4,353.4 334.0,355.3 334.6,357.3 335.1,359.1 335.7,361.0 336.3,362.9 336.9,365.0 337.6,366.8 338.2,368.4 338.9,370.4 339.7,372.1 340.4,374.4 341.2,376.6 341.9,378.2 342.7,380.0 343.5,382.0 344.2,383.4 345.0,384.5 345.8,386.6 346.5,389.3 347.2,391.3 348.0,392.8 348.7,394.4 349.4,396.3 350.1,398.4 350.8,399.8 351.4,401.3 352.1,403.2 352.7,405.6 353.4,408.4 354.0,410.6 354.6,411.7 355.3,412.9 355.9,415.3 356.5,417.9 357.1,419.6 357.7,420.9 358.3,422.5 358.9,424.0 359.5,425.9 360.2,428.5 360.8,430.7 361.4,432.3 362.0,434.3 362.6,436.0 363.2,437.7 363.8,440.2 364.4,442.6 365.0,444.3 365.6,445.5 366.3,446.9 366.9,449.1 367.5,451.7 368.1,453.7 368.7,455.1 369.3,456.9 370.0,459.1 370.6,460.6 371.2,462.7 371.8,465.0 372.4,466.6 373.1,467.9 373.7,469.7 374.3,471.9 374.9,474.0 375.5,476.1 376.1,478.1 376.8,479.6 377.4,481.8 378.0,484.7 378.6,486.6 379.2,487.6 379.9,488.7 380.5,490.8 381.1,493.1 381.7,495.2 382.4,497.5 383.0,499.5 383.6,501.7 384.3,503.5 384.9,504.7 385.6,506.5 386.3,509.0 386.9,511.0 387.6,512.4 388.2,514.2 388.9,515.8 389.5,517.0 390.1,518.7 390.7,520.6 391.3,522.7 391.9,525.3 392.4,528.2 393.0,530.3 393.6,531.8 394.1,533.9 394.7,535.8 395.3,537.2 395.9,539.4 396.5,541.8 397.1,543.5 397.7,544.9 398.4,546.3 399.0,548.1 399.7,550.4 400.4,552.4 401.0,554.1 401.7,556.3 402.4,558.4 403.1,560.4 403.8,562.6 404.5,564.3 405.2,565.6 405.9,567.0 406.6,568.7 407.4,570.5 408.1,572.5 408.9,574.8 409.6,576.9 410.3,578.9 411.0,580.5 411.7,582.2 412.4,584.2 413.1,586.4 413.7,588.5 414.3,590.7 414.9,592.9 415.5,594.8 416.0,596.4 416.6,597.9 417.1,599.8 417.7,601.9 418.2,603.9 418.7,606.0 419.3,607.9 419.9,609.2 420.5,610.6 421.1,612.2 421.7,614.4 422.4,616.9 423.1,619.1 423.8,620.8 424.5,622.7 425.2,624.5 425.9,625.7 426.7,627.4 427.4,629.2 428.2,631.1 428.9,633.3 429.7,634.9 430.5,636.7 431.3,639.2 432.1,641.0 433.0,642.2 433.8,644.1 434.7,646.5 435.6,648.5 436.5,649.6 437.4,651.2 438.3,653.7 439.3,655.3 440.3,656.8 441.3,658.4 442.3,660.0 443.4,662.2 444.4,664.1 445.5,665.7 446.7,667.1 447.8,668.6 449.1,670.0 450.3,671.2 451.6,672.4 452.9,674.0 454.3,676.3 455.8,678.6 457.2,680.0 458.7,680.9 460.4,681.8 462.2,682.5 464.0,682.7 465.9,683.1 467.8,683.8 469.8,684.7 471.7,685.8 473.7,686.1 475.7,686.0 477.7,685.8 479.7,685.7 481.7,686.0 483.7,686.8 485.7,687.0 487.7,686.7 489.6,686.2 491.6,685.9 493.5,685.3 495.4,684.7 497.3,684.1 499.1,683.5 501.0,683.0 502.8,682.2 504.7,680.7 506.6,679.2 508.4,678.4 510.3,677.9 512.2,677.7 514.1,676.8 516.0,675.5 517.9,675.4 519.8,675.7 521.7,675.5 523.6,674.9 525.6,674.1 527.5,673.1 529.4,671.9 531.4,671.1 533.3,670.8 535.2,670.7 537.2,670.2 539.1,669.6 541.1,669.8 543.0,669.4 545.0,668.6 546.9,668.3 548.9,668.0 550.8,667.8 552.8,667.4 554.8,666.7 556.7,666.5 558.7,666.5 560.7,666.2 562.6,666.0 564.6,665.4 566.5,664.0 568.5,663.4 570.4,663.1 572.3,662.1 574.2,661.7 576.1,662.2 578.0,662.0 579.9,660.9 581.8,659.6 583.7,658.9 585.7,658.2 587.6,657.0 589.5,656.2 591.5,656.0 593.4,655.7 595.3,654.9 597.2,654.3 599.1,654.4 601.1,654.1 603.0,653.2 604.9,652.9 606.9,652.8 608.8,653.0 610.8,652.8 612.8,652.5 614.8,652.2 616.8,651.3 618.8,650.8 620.8,650.7 622.7,651.4 624.7,652.6 626.6,653.0 628.5,652.8 630.4,653.3 632.3,654.3 634.2,655.1 636.2,655.8 638.1,656.6 640.1,656.8 642.1,657.2 644.1,656.8 646.1,656.2 648.0,656.0 650.0,656.4 652.0,656.6 654.0,656.2 656.0,655.5 657.9,655.3 659.9,655.2 661.9,654.7 663.9,654.4 665.8,654.2 667.8,653.4 669.8,653.1 671.8,653.4 673.8,653.3 675.8,653.3 677.7,653.0 679.7,652.0 681.7,651.7 683.7,652.0 685.7,651.2 687.6,650.5 689.6,651.0 691.5,650.8 693.5,649.6 695.4,649.2 697.4,649.1 699.3,648.0 701.3,647.2 703.2,647.1 705.2,646.4 707.1,646.0 709.1,645.9 711.1,645.7 713.1,645.8 715.1,645.2 717.0,645.1 719.0,645.8 721.0,645.4 723.0,645.2 725.0,645.9 727.0,645.9 729.0,645.7 730.9,646.3 732.9,647.4 734.8,648.2 736.8,648.4 738.7,648.8 740.7,649.5 742.7,650.0 744.7,649.5 746.6,648.9 748.6,649.6 750.6,651.0 752.6,651.7 754.6,651.6 756.6,651.7 758.5,652.1 760.5,652.3 762.5,652.2 764.5,652.1 766.5,651.9 768.5,651.7 770.5,651.8 772.5,651.5 774.4,650.2 776.3,648.9 778.1,648.4 780.0,647.9 781.9,647.2 783.8,646.6 785.8,645.8 787.7,645.2 789.7,644.9 791.6,644.6 793.5,643.8 795.4,643.5 797.4,643.7 799.3,643.0 801.3,642.2 803.3,641.5 805.2,641.2 807.2,641.6 809.2,641.6 811.2,641.1 813.2,640.8 815.2,641.1 817.2,642.0 819.2,642.7 821.2,643.2 823.1,643.6 825.1,643.7 827.1,644.2 829.0,644.8 831.0,645.1 833.0,645.6 834.9,646.0 836.9,645.7 838.9,645.0 840.9,645.2 842.9,646.1 844.9,646.7 846.9,647.1 848.9,647.1 850.9,647.1 852.9,646.6 854.9,645.9 856.9,646.0 858.9,646.0 860.9,645.8 862.9,646.1 864.9,646.5 866.9,646.8 868.9,646.8 870.9,646.9 872.9,646.4 874.9,645.8 876.8,646.0 878.8,645.9 880.8,645.4 882.8,644.9 884.8,644.6 886.8,644.9 888.8,645.0 890.7,644.6 892.7,644.6 894.7,644.5 896.7,643.7 898.6,642.8 900.6,642.4 902.6,642.4 904.6,641.6 906.5,641.1 908.5,641.2 910.5,640.9 912.4,640.8 914.4,640.8 916.4,640.6 918.4,640.3 920.3,639.7 922.3,639.0 924.3,638.0 926.2,637.6 928.2,637.6 930.1,637.0 932.0,636.4 934.0,636.5 935.9,636.5 937.8,635.6 939.7,634.6 941.6,634.0 943.4,632.8 945.3,631.8 947.2,631.1 949.1,629.9 950.9,629.0 952.9,628.6 954.8,628.6 956.7,628.5 958.7,628.0 960.6,628.0 962.6,627.9 964.5,627.2 966.5,626.7 968.4,626.5 970.4,626.2 972.4,625.6 974.3,625.1 976.3,625.2 978.3,624.9 980.2,623.5 982.2,622.9 984.1,622.8 986.1,622.3 988.0,622.2 989.9,621.6 991.9,620.4 993.8,619.8 995.7,619.1 997.7,619.0 999.6,618.7 1001.5,617.4 1003.4,616.9 1005.4,617.2 1007.3,617.0 1009.2,616.3 1011.1,615.2 1013.0,614.1 1014.9,613.7 1016.8,613.9 1018.7,613.4 1020.7,612.0 1022.6,611.0 1024.5,610.3 1026.4,609.6 1028.4,609.6 1030.3,609.6 1032.3,608.7 1034.3,608.4 1036.2,608.6 1038.2,608.4 1040.2,608.3 1042.2,607.5 1044.2,606.8 1046.1,606.5 1048.1,606.2 1050.1,606.4 1052.1,606.9 1054.1,607.2 1056.1,606.7 1058.1,605.8 1060.1,605.4 1062.1,605.1 1064.1,604.7 1066.0,604.3 1068.0,604.5 1070.0,605.4 1072.0,605.6 1074.0,604.7 1076.0,604.1 1078.0,603.9 1080.0,603.6 1082.0,603.5 1084.0,603.5 1086.0,603.9 1088.0,604.3 1089.9,603.6 1091.9,602.2 1093.9,601.6 1095.9,602.0 1097.9,602.7 1099.9,602.3 1101.9,601.0 1103.9,600.4 1105.9,600.5 1107.8,600.8 1109.8,601.4 1111.8,601.3 1113.8,600.6 1115.8,600.3 1117.8,599.9 1119.8,599.2 1121.8,598.9 1123.8,598.9 1125.7,598.6 1127.7,598.3 1129.7,598.4 1131.7,598.4 1133.7,597.8 1135.6,597.5 1137.6,597.3 1139.6,596.6 1141.6,595.9 1143.5,595.7 1145.5,595.5 1147.5,595.3 1149.4,595.8 1151.4,595.5 1153.4,594.2 1155.4,593.7 1157.4,593.7 1159.4,593.9 1161.4,594.2 1163.4,593.8 1165.4,593.7 1167.4,593.9 1169.4,593.7 1171.4,593.6 1173.4,593.5 1175.4,593.1 1177.4,592.5 1179.4,592.7 1181.4,593.4 1183.4,593.3 1185.4,593.2 1187.3,593.0 1189.3,592.0 1191.3,591.7 1193.3,592.0 1195.3,591.9 1197.3,591.7 1199.3,591.5 1201.3,591.4 1203.3,591.7 1205.3,591.4 1207.3,590.6 1209.3,590.7 1211.2,591.3 1213.2,591.0 1215.2,590.3 1217.2,590.0 1219.2,589.2 1221.2,588.7 1223.1,588.9 1225.1,588.4 1227.1,587.7 1229.1,587.6 1231.1,587.4 1233.1,587.2 1235.0,587.2 1237.0,587.0 1239.0,586.4 1241.0,586.2 1243.0,586.1 1245.0,586.0 1246.9,585.9 1248.9,585.6 1250.9,585.4 1252.9,585.2 1254.9,584.9 1256.9,584.9 1258.9,584.6 1260.9,584.1 1262.8,583.9 1264.8,583.6 1266.8,583.4 1268.8,583.2 1270.8,582.5 1272.8,582.1 1274.8,582.4 1276.8,582.6 1278.8,582.1 1280.8,582.2 1282.8,582.3 1284.8,581.7 1286.7,581.8 1288.7,581.8 1290.7,581.6 1292.7,581.7 1294.7,581.3 1296.7,581.1 1298.7,581.1 1300.7,581.2 1302.7,581.3 1304.7,581.0 1306.7,580.4 1308.7,580.3 1310.7,580.4 1312.7,579.7 1314.7,578.8 1316.7,578.9 1318.6,579.1 1320.6,578.9 1322.6,578.9 1324.6,578.8 1326.6,577.8 1328.6,577.6 1330.6,578.5 1332.6,578.8 1334.5,578.1 1336.5,577.0 1338.5,576.3 1340.5,576.5 1342.5,576.4 1344.4,575.7 1346.4,575.1 1348.4,574.7 1350.3,574.0 1352.3,573.6 1354.3,573.2 1356.2,572.9 1358.2,573.0 1360.1,572.9 1362.1,572.1 1364.1,571.4 1366.0,571.3 1368.0,571.4 1370.0,571.0 1372.0,570.9 1373.9,570.7 1375.9,569.6 1377.9,569.0 1379.9,568.9 1381.9,569.0 1383.9,569.0 1385.9,568.7 1387.9,568.6 1389.9,568.7 1391.9,568.2 1393.9,568.3 1395.9,569.2 1397.9,569.6 1399.9,569.5 1401.9,568.9 1403.9,568.5 1405.9,568.4 1407.9,568.0 1409.9,567.9 1411.9,568.6 1413.9,569.1 1415.9,568.8 1417.9,567.7 1419.9,567.2 1421.9,567.4 1423.9,568.2 1425.9,568.7 1427.9,568.4 1429.9,568.0 1431.8,567.8 1433.8,567.2 1435.8,567.1 1437.8,567.1 1439.8,566.1 1441.8,565.9 1443.8,566.6 1445.8,566.3 1447.7,565.7 1449.7,565.3 1451.7,564.8 1453.7,564.3 1455.7,563.9 1457.7,564.1 1459.6,564.5 1461.6,564.4 1463.6,564.3 1465.6,564.0 1467.6,563.3 1469.6,562.9 1471.6,562.7 1473.5,562.4 1475.5,562.5 1477.5,562.3 1479.5,561.6 1481.5,561.8 1483.5,562.2 1485.5,562.3 1487.5,562.2 1489.5,562.4 1491.5,561.9 1493.5,561.2 1495.5,561.5 1497.5,561.7 1499.5,561.8 1501.5,561.9 1503.5,561.7 1505.5,561.8 1507.5,561.9 1509.5,561.8 1511.5,561.5 1513.5,560.8 1515.5,560.9 1517.5,561.6 1519.5,561.7 1521.5,561.6 1523.5,561.5 1525.5,561.0 1527.5,560.8 1529.5,561.1 1531.5,561.1 1533.5,560.3 1535.5,559.9 1537.5,560.0 1539.5,559.5 1541.5,559.2 1543.4,559.3 1545.4,559.1 1547.4,559.1 1549.3,559.3 1551.3,559.0 1553.3,558.1 1555.2,557.1 1557.2,556.5 1559.2,556.5 1561.1,556.5 1563.0,555.9 1565.0,554.6 1566.9,554.1 1568.9,554.5 1570.8,554.0 1572.8,553.0 1574.8,552.5 1576.8,552.1 1578.7,552.0 1580.7,552.0 1582.7,551.8 1584.7,551.6 1586.7,550.9 1588.7,551.0 1590.7,551.9 1592.7,552.1 1594.7,551.8 1596.7,551.4 1598.7,550.8 1600.7,550.4 1602.7,550.7 1604.7,551.2 1606.7,551.2 1608.7,550.5 1610.7,549.9 1612.7,550.1 1614.7,550.7 1616.7,551.0 1618.7,550.7 1620.7,550.2 1622.6,549.7 1624.6,549.3 1626.6,549.4 1628.6,549.6 1630.6,549.5 1632.6,549.7 1634.6,549.9 1636.6,549.9 1638.6,549.3 1640.6,548.1 1642.6,547.9 1644.6,548.0 1646.6,547.6 1648.6,547.6 1650.6,548.2 1652.6,548.5 1654.6,548.3 1656.5,547.8 1658.5,547.7 1660.5,547.3 1662.5,546.6 1664.5,546.3 1666.5,546.1 1668.5,545.9 1670.5,545.7 1672.5,546.2 1674.5,546.7 1676.5,546.4 1678.5,546.0 1680.5,545.5 1682.5,544.9 1684.4,544.6 1686.4,544.1 1688.4,543.4 1690.3,543.1 1692.3,543.3 1694.3,543.1 1696.2,542.9 1698.2,542.5 1700.1,541.8 1702.1,541.3 1704.0,540.9 1705.9,540.8 1707.9,540.3 1709.8,539.0 1711.7,538.2 1713.5,537.4 1715.4,536.1 1717.3,535.0 1719.2,534.9 1721.1,534.8 1723.0,533.8 1725.0,533.0 1726.9,532.8 1728.9,532.9 1730.9,533.4 1732.9,533.1 1734.9,532.5 1736.9,532.4 1738.9,532.9 1740.9,533.0 1742.9,532.7 1744.8,533.3 1746.8,533.8 1748.8,533.6 1750.8,534.0 1752.8,534.3 1754.8,533.9 1756.8,534.0 1758.7,534.7 1760.7,535.8 1762.7,536.4 1764.6,536.5 1766.6,536.5 1768.6,536.8 1770.5,537.1 1772.5,537.2 1774.5,537.5 1776.5,537.7 1778.5,538.4 1780.5,538.6 1782.5,537.9 1784.5,537.6 1786.5,537.9 1788.5,538.1 1790.5,538.2 1792.5,538.0 1794.5,538.0 1796.5,538.3 1798.5,538.0 1800.5,537.3 1802.5,537.3 1804.4,536.9 1806.4,536.0 1808.4,535.7 1810.4,535.6 1812.4,535.5 1814.4,535.6 1816.4,535.5 1818.4,535.2 1820.3,534.6 1822.3,534.2 1824.2,533.9 1826.1,533.5 1828.0,533.1 1829.9,531.9 1831.8,530.7 1833.8,530.5 1835.8,530.5 1837.7,530.4 1839.7,530.4 1841.7,530.3 1843.7,530.3 1845.7,530.6 1847.7,531.0 1849.7,531.4 1851.7,531.6 1853.7,531.6 1855.7,531.9 1857.7,532.6 1859.7,533.1 1861.7,532.9 1863.6,532.8 1865.6,533.3 1867.6,533.4 1869.6,533.0 1871.6,532.8 1873.5,533.3 1875.5,534.4 1877.5,535.1 1879.5,535.0 1881.5,534.4 1883.4,534.8 1885.4,535.6 1887.4,535.4 1889.4,535.6 1891.3,536.3 1893.3,536.5 1895.3,537.3 1897.3,538.0 1899.3,537.6 1901.2,537.8 1903.2,538.1 1905.2,538.0 1907.1,538.7 1909.1,540.1 1911.1,540.3 1913.1,539.9 1915.0,540.7 1917.0,541.4 1919.0,541.4 1920.9,541.7 1922.9,542.2 1924.9,542.8 1926.9,543.3 1928.8,543.2 1930.8,542.9 1932.8,542.7 1934.8,542.6 1936.8,543.2 1938.7,544.6 1940.7,545.1 1942.7,544.6 1944.7,544.3 1946.7,544.2 1948.7,544.5 1950.7,545.1 1952.7,545.5 1954.7,545.6 1956.7,545.4 1958.7,545.3 1960.7,546.1 1962.7,546.4 1964.7,545.8 1966.7,545.7 1968.7,546.0 1970.7,546.0 1972.7,545.8 1974.7,545.4 1976.7,545.4 1978.7,546.2 1980.7,546.4 1982.7,545.5 1984.7,545.3 1986.7,546.0 1988.7,546.4 1990.7,546.3 1992.7,546.2 1994.6,546.6 1996.6,547.2 1998.5,547.7 2000.5,548.0 2002.4,549.0 2004.3,550.0 2006.2,550.5 2008.1,551.4 2010.0,552.2 2011.9,552.5 2013.9,552.7 2015.9,553.4 2017.8,553.7 2019.8,553.6 2021.8,554.1 2023.8,553.9 2025.8,553.5 2027.8,553.4 2029.8,553.2 2031.8,553.4 2033.8,553.7 2035.8,553.7 2037.8,553.8 2039.8,553.8 2041.8,553.9 2043.8,554.6 2045.8,555.1 2047.8,555.1 2049.7,555.2 2051.6,555.6 2053.5,556.4 2055.0,557.7 2056.3,559.3 2057.6,560.6 2058.8,562.1 2059.8,564.8 2060.7,567.2 2061.6,568.5 2062.4,569.7 2063.1,571.8 2064.4,573.0 2065.1,574.3 2065.7,575.6 2066.2,577.4 2066.7,579.1 2067.1,581.3 2067.5,584.0 2067.9,586.3 2068.3,588.4 2068.7,590.2 2069.0,591.9 2069.4,594.1 2069.8,596.0 2070.1,597.8 2070.5,599.7 2070.9,601.2 2071.3,603.1 2071.7,605.3 2072.0,607.1" fill="none" stroke="#37AD6B" stroke-width="10.6" stroke-linejoin="round" stroke-linecap="butt" shape-rendering="crispEdges"/>
<polygon points="291.0,1755.1 265.8,1711.5 316.2,1711.5" fill="#0000FF"/>
<polygon points="389.8,546.2 364.6,502.6 415.0,502.6" fill="#0000FF"/>
<polygon points="487.7,715.2 462.5,671.6 512.9,671.6" fill="#0000FF"/>
<polygon points="587.0,687.2 561.8,643.6 612.2,643.6" fill="#0000FF"/>
<polygon points="685.6,680.5 660.4,636.9 710.8,636.9" fill="#0000FF"/>
<polygon points="784.0,676.1 758.8,632.5 809.2,632.5" fill="#0000FF"/>
<polygon points="883.1,674.3 857.9,630.7 908.3,630.7" fill="#0000FF"/>
<polygon points="981.7,652.3 956.5,608.7 1006.9,608.7" fill="#0000FF"/>
<polygon points="1080.0,635.6 1054.8,592.0 1105.2,592.0" fill="#0000FF"/>
<polygon points="1178.9,622.4 1153.7,578.8 1204.1,578.8" fill="#0000FF"/>
<polygon points="1278.0,611.4 1252.8,567.8 1303.2,567.8" fill="#0000FF"/>
<polygon points="1376.1,599.4 1350.9,555.8 1401.3,555.8" fill="#0000FF"/>
<polygon points="1474.7,591.4 1449.5,547.8 1499.9,547.8" fill="#0000FF"/>
<polygon points="1573.3,582.5 1548.1,538.9 1598.5,538.9" fill="#0000FF"/>
<polygon points="1671.9,575.2 1646.7,531.6 1697.1,531.6" fill="#0000FF"/>
<polygon points="1771.0,566.5 1745.8,522.9 1796.2,522.9" fill="#0000FF"/>
<polygon points="1870.4,562.5 1845.2,518.9 1895.6,518.9" fill="#0000FF"/>
<polygon points="1968.5,574.5 1943.3,530.9 1993.7,530.9" fill="#0000FF"/>
<polygon points="2067.1,614.4 2041.9,570.8 2092.3,570.8" fill="#0000FF"/>
<polygon points="2110.4,1460.0 2085.2,1416.4 2135.6,1416.4" fill="#0000FF"/>
<polyline points="1965.4,717.0 1965.7,718.9 1966.1,721.1 1966.4,722.9 1966.7,724.8 1967.0,726.8 1967.2,728.7 1968.7,740.6 1969.8,752.6 1971.1,768.5 1971.7,782.5 1971.9,790.5 1973.8,940.5 1974.2,1008.5 1974.3,1094.5 1974.4,1480.6 1974.4,1482.7 1974.4,1484.9 1974.4,1486.9 1974.4,1488.8 1974.9,1490.2 1976.4,1491.6 1977.9,1493.5 1979.5,1494.8 1981.0,1495.7 1982.5,1497.1 1984.1,1498.3 1985.6,1499.4" fill="none" stroke="#B177DE" stroke-width="9" stroke-linejoin="round" stroke-linecap="butt" shape-rendering="crispEdges"/>
<polyline points="290.5,1727.5 290.7,1727.3 290.9,1723.3 291.2,1699.3 294.8,1321.3 296.3,1197.3 299.8,977.2 302.3,809.2 303.5,741.2 304.7,685.2 307.0,609.3 307.6,593.3 308.5,575.3 310.3,517.3 311.0,499.3 312.1,485.3 313.2,475.4 314.2,467.5 316.3,455.6 318.3,445.9 319.3,442.0 320.4,438.1 321.2,436.3 322.1,434.5 323.4,433.0 325.3,432.5 326.8,433.6 328.0,435.2 329.0,437.0 329.8,438.8 331.8,444.5 332.5,446.3 333.1,448.2 333.8,450.0 334.5,452.0 335.1,453.9 335.8,455.7 336.4,457.7 337.1,459.7 337.7,461.5 338.4,463.7 339.1,465.5 339.7,466.6 340.4,468.2 341.0,470.3 341.7,472.9 342.3,475.5 343.0,477.1 343.7,478.3 344.3,479.9 345.0,481.8 345.6,484.3 346.3,486.6 346.9,488.3 347.6,489.7 348.3,491.2 348.9,493.4 349.6,495.7 350.3,497.9 350.9,499.7 351.6,501.0 352.3,502.5 352.9,504.7 353.6,507.1 354.3,509.4 354.9,511.1 355.6,512.6 356.3,514.4 356.9,516.4 357.6,518.0 358.2,519.5 358.9,521.2 359.6,523.2 360.2,525.6 360.9,527.7 361.5,528.9 362.2,530.4 362.8,533.3 363.5,535.6 364.1,536.8 364.8,537.9 365.5,539.6 366.1,541.8 366.8,544.3 367.4,546.5 368.1,548.5 368.7,550.1 369.4,551.7 370.0,553.3 370.7,555.6 371.3,558.3 372.0,560.1 372.6,561.9 373.3,563.9 374.0,565.1 374.7,566.5 375.4,568.8 376.1,571.2 376.9,573.2 377.6,574.7 378.4,576.7 379.2,579.0 380.0,580.5 380.7,582.1 381.5,584.4 382.3,586.3 383.1,588.3 383.9,590.2 384.7,591.5 385.5,593.0 386.3,594.7 387.1,596.4 387.9,598.5 388.7,600.4 389.5,601.9 390.3,603.7 391.1,605.5 391.8,607.5 392.6,609.5 393.3,611.1 394.1,612.4 394.8,614.5 395.6,617.0 396.3,618.5 397.0,620.4 397.8,622.7 398.5,624.4 399.2,625.8 400.0,627.4 400.7,629.7 401.5,631.9 402.2,633.6 402.9,635.2 403.7,636.9 404.4,638.6 405.1,640.4 405.9,642.1 406.6,643.9 407.4,645.7 408.1,648.1 408.8,650.8 409.6,652.5 410.3,653.9 411.0,655.9 411.8,657.8 412.5,659.8 413.2,661.7 413.9,663.7 414.7,666.0 415.4,668.1 416.1,669.7 416.8,670.9 417.6,672.6 418.3,674.9 419.1,676.7 419.8,677.9 420.7,679.7 421.5,682.1 422.3,683.5 423.2,685.0 424.0,687.3 424.9,689.3 425.9,691.0 426.8,692.3 427.8,694.2 428.7,696.8 429.7,698.4 430.7,700.0 431.7,702.1 432.7,703.5 433.7,704.5 434.7,706.4 435.7,709.1 436.8,711.1 437.8,712.4 438.9,714.0 440.0,715.9 441.0,717.7 442.1,719.4 443.2,720.6 444.4,721.9 445.5,723.9 446.6,725.4 447.7,726.5 448.9,727.9 450.0,729.7 451.2,731.3 452.4,732.7 453.7,734.2 454.9,735.8 456.2,737.3 457.5,739.1 458.9,741.1 460.2,742.9 461.7,743.9 463.1,744.5 464.7,745.7 466.4,747.6 468.1,749.0 469.8,749.7 471.6,750.6 473.5,751.7 475.4,752.4 477.3,753.0 479.2,753.5 481.1,753.3 483.0,753.9 484.9,755.3 486.9,755.9 488.9,755.6 490.9,754.8 492.9,754.2 494.8,754.2 496.7,753.3 498.6,752.2 500.5,751.4 502.4,750.5 504.2,749.4 506.1,748.9 508.0,748.9 509.9,748.8 511.8,748.2 513.7,747.0 515.6,745.9 517.5,745.4 519.4,744.8 521.3,744.2 523.2,743.5 525.2,743.2 527.1,743.4 529.0,743.0 531.0,742.2 532.9,741.2 534.9,740.8 536.9,740.9 538.8,741.1 540.8,740.9 542.8,740.5 544.8,739.7 546.7,739.0 548.7,739.4 550.7,739.7 552.7,739.3 554.7,738.7 556.7,738.4 558.7,738.5 560.7,738.3 562.7,738.2 564.7,738.7 566.7,738.5 568.7,737.8 570.7,738.1 572.7,738.4 574.7,737.4 576.7,736.9 578.6,737.3 580.6,737.1 582.6,736.7 584.6,736.6 586.6,735.8 588.5,734.7 590.5,734.4 592.5,734.6 594.5,734.4 596.4,734.0 598.4,733.5 600.4,732.9 602.3,732.6 604.3,732.3 606.3,732.0 608.2,732.1 610.2,732.1 612.2,731.9 614.1,731.7 616.1,731.0 618.1,730.7 620.1,730.8 622.1,730.6 624.1,730.2 626.0,730.0 628.0,730.0 630.0,729.2 632.0,728.1 634.0,728.1 636.0,728.4 638.0,728.1 640.0,728.1 642.0,728.3 644.0,728.2 646.0,727.5 648.0,726.8 650.0,726.4 652.0,726.5 653.9,726.5 655.9,726.2 657.9,726.1 659.9,725.8 661.9,725.8 663.9,726.3 665.9,726.5 667.9,726.0 669.9,725.3 671.8,725.0 673.8,725.0 675.8,724.7 677.7,723.9 679.7,723.1 681.7,722.8 683.7,723.0 685.6,722.9 687.6,722.2 689.6,722.2 691.5,722.1 693.5,721.4 695.5,721.1 697.4,720.6 699.4,719.9 701.3,719.2 703.3,718.7 705.3,718.9 707.2,718.7 709.2,717.8 711.2,717.3 713.1,716.6 715.1,716.3 717.1,716.7 719.1,716.5 721.1,715.8 723.1,715.4 725.0,715.3 727.0,715.7 729.0,716.1 731.0,716.1 733.0,715.9 735.0,715.8 737.0,715.5 739.0,715.0 741.0,714.4 743.0,713.7 745.0,713.8 747.0,714.2 749.0,714.0 751.0,714.0 753.0,714.5 755.0,714.2 757.0,713.6 759.0,713.4 761.0,713.6 763.0,714.0 765.0,714.6 767.0,714.6 769.0,714.1 771.0,714.1 773.0,714.7 775.0,715.1 777.0,715.1 779.0,715.4 781.0,716.0 783.0,716.1 785.0,715.7 787.0,715.3 789.0,715.3 791.0,715.4 793.0,714.8 795.0,714.3 797.0,714.9 799.0,715.1 801.0,714.6 803.0,714.7 805.0,714.7 806.9,713.9 808.9,712.8 810.9,712.5 812.9,713.0 814.9,712.9 816.9,712.8 818.9,713.1 820.9,712.9 822.9,712.8 824.9,712.6 826.9,712.6 828.9,713.2 830.9,713.0 832.9,712.3 834.9,712.5 836.9,712.8 838.9,712.4 840.9,712.2 842.9,712.1 844.9,712.3 846.9,712.5 848.9,711.9 850.9,711.8 852.9,712.3 854.9,712.5 856.9,712.5 858.9,712.6 860.9,712.3 862.9,711.9 864.9,712.0 866.9,712.1 868.9,712.0 870.9,712.1 872.9,712.5 874.9,712.6 876.9,712.1 878.9,711.5 880.9,711.3 882.9,711.3 884.9,710.9 886.9,711.0 888.9,711.5 890.9,711.4 892.9,711.1 894.9,711.6 896.9,711.9 898.9,711.6 900.9,711.2 902.9,711.5 904.9,711.6 906.9,711.2 908.9,711.7 910.9,712.8 912.9,713.3 914.9,713.0 916.9,712.6 918.9,712.2 920.9,711.8 922.9,712.0 924.9,712.3 926.9,712.4 928.9,712.8 930.9,712.7 932.9,711.8 934.9,711.5 936.9,711.8 938.9,712.0 940.9,712.2 942.9,712.5 944.9,712.1 946.9,711.4 948.9,711.6 950.9,712.3 952.9,712.5 954.9,711.9 956.9,711.0 958.9,711.1 960.9,711.4 962.9,710.9 964.9,710.6 966.9,711.1 968.9,711.3 970.9,710.6 972.9,709.8 974.9,709.4 976.9,709.4 978.9,710.0 980.8,710.4 982.8,710.2 984.8,709.7 986.8,709.5 988.8,709.5 990.8,709.3 992.8,708.8 994.8,708.6 996.8,708.6 998.8,708.2 1000.8,708.3 1002.8,708.4 1004.8,708.1 1006.8,708.3 1008.8,708.6 1010.8,708.3 1012.7,707.7 1014.7,707.1 1016.7,706.8 1018.7,706.7 1020.7,707.0 1022.7,707.2 1024.7,706.4 1026.7,706.3 1028.7,706.6 1030.7,706.1 1032.7,706.0 1034.7,706.9 1036.7,707.1 1038.7,706.3 1040.7,705.6 1042.7,705.7 1044.7,705.5 1046.7,705.0 1048.7,704.7 1050.7,704.3 1052.7,704.1 1054.7,703.8 1056.6,703.5 1058.6,703.6 1060.6,704.0 1062.6,703.8 1064.5,703.0 1066.5,702.5 1068.4,701.8 1070.4,701.6 1072.3,701.8 1074.3,701.4 1076.2,701.2 1078.2,700.8 1080.1,700.1 1082.1,699.9 1084.1,699.4 1086.0,698.2 1088.0,697.2 1089.9,696.9 1091.9,696.9 1093.8,697.1 1095.7,696.5 1097.7,695.1 1099.6,694.3 1101.5,694.0 1103.5,693.4 1105.4,692.7 1107.4,692.1 1109.3,691.6 1111.2,691.1 1113.2,690.8 1115.1,691.0 1117.0,691.3 1119.0,690.6 1120.9,689.2 1122.8,688.4 1124.7,688.3 1126.6,687.6 1128.6,686.7 1130.5,686.7 1132.4,686.3 1134.3,685.5 1136.3,685.0 1138.2,684.6 1140.2,684.3 1142.1,684.2 1144.1,683.7 1146.1,683.1 1148.1,682.8 1150.1,682.4 1152.1,682.4 1154.0,682.8 1156.0,682.7 1158.0,682.4 1160.0,682.0 1162.0,681.9 1164.0,681.6 1166.0,681.0 1167.9,680.8 1169.9,680.8 1171.9,680.7 1173.8,680.1 1175.8,679.2 1177.7,678.6 1179.7,677.8 1181.6,677.5 1183.6,677.4 1185.5,676.3 1187.5,675.9 1189.4,676.0 1191.4,675.4 1193.3,674.6 1195.3,674.1 1197.3,673.9 1199.2,674.0 1201.2,673.9 1203.1,673.4 1205.1,673.1 1207.1,672.1 1209.0,671.2 1211.0,671.4 1213.0,671.5 1215.0,671.3 1216.9,671.0 1218.9,670.8 1220.9,670.5 1222.9,670.3 1224.9,669.8 1226.9,669.4 1228.9,669.4 1230.9,669.4 1232.9,668.8 1234.8,668.4 1236.8,668.9 1238.8,668.9 1240.8,668.0 1242.8,667.6 1244.8,667.6 1246.8,667.7 1248.8,668.3 1250.8,668.5 1252.8,668.4 1254.8,668.8 1256.8,669.0 1258.8,668.7 1260.8,668.5 1262.8,668.6 1264.8,668.5 1266.8,668.1 1268.8,667.7 1270.8,667.7 1272.8,667.3 1274.7,666.8 1276.7,666.2 1278.7,665.3 1280.7,665.0 1282.6,665.2 1284.6,665.3 1286.6,664.9 1288.6,664.2 1290.6,663.9 1292.6,663.6 1294.6,663.2 1296.6,663.3 1298.5,664.1 1300.5,664.9 1302.5,665.4 1304.5,665.8 1306.5,665.7 1308.5,665.2 1310.5,664.8 1312.5,665.1 1314.5,664.8 1316.5,664.7 1318.5,665.3 1320.4,665.6 1322.4,665.3 1324.4,664.6 1326.4,663.7 1328.4,663.8 1330.4,664.5 1332.4,664.7 1334.4,664.5 1336.4,664.5 1338.4,664.0 1340.4,662.9 1342.4,662.5 1344.4,663.0 1346.4,663.1 1348.3,662.9 1350.3,663.0 1352.3,662.7 1354.3,661.7 1356.3,661.2 1358.3,660.9 1360.3,660.6 1362.3,660.7 1364.3,661.1 1366.3,661.3 1368.3,661.0 1370.3,660.3 1372.3,659.4 1374.2,659.3 1376.2,659.4 1378.2,659.5 1380.2,659.4 1382.2,658.8 1384.2,658.6 1386.2,658.8 1388.2,658.5 1390.2,658.5 1392.2,659.0 1394.2,658.5 1396.2,657.9 1398.1,657.9 1400.1,657.5 1402.1,657.8 1404.1,658.2 1406.1,657.7 1408.1,656.9 1410.1,656.4 1412.1,656.6 1414.1,656.5 1416.1,656.0 1418.1,656.2 1420.1,655.8 1422.0,655.3 1424.0,655.6 1426.0,655.7 1428.0,655.2 1430.0,654.4 1432.0,654.2 1434.0,654.9 1435.9,655.0 1437.9,654.1 1439.9,652.8 1441.9,652.7 1443.8,653.2 1445.8,652.6 1447.8,651.6 1449.7,650.9 1451.7,651.1 1453.7,651.3 1455.7,650.8 1457.6,650.5 1459.6,650.4 1461.6,649.9 1463.6,649.7 1465.6,649.1 1467.6,649.1 1469.6,649.4 1471.6,648.9 1473.6,648.3 1475.6,648.6 1477.6,649.5 1479.6,649.8 1481.6,649.3 1483.6,649.2 1485.6,649.3 1487.6,649.0 1489.6,648.8 1491.6,649.0 1493.6,648.8 1495.6,648.6 1497.6,648.5 1499.6,648.0 1501.6,648.0 1503.6,648.7 1505.6,648.9 1507.6,649.0 1509.6,649.6 1511.6,649.6 1513.6,649.0 1515.6,649.0 1517.6,649.5 1519.6,649.6 1521.6,649.3 1523.6,649.0 1525.6,649.1 1527.6,648.7 1529.6,648.2 1531.6,648.4 1533.5,648.6 1535.5,648.0 1537.4,646.9 1539.4,646.4 1541.3,646.0 1543.2,645.7 1545.1,644.8 1547.0,644.2 1548.9,644.1 1550.9,643.8 1552.8,643.5 1554.8,643.0 1556.8,642.6 1558.8,642.5 1560.8,642.8 1562.8,643.0 1564.8,642.1 1566.8,641.3 1568.8,641.3 1570.8,641.9 1572.8,642.4 1574.8,642.3 1576.8,642.2 1578.8,642.0 1580.8,641.8 1582.8,641.8 1584.8,642.2 1586.8,642.3 1588.8,642.2 1590.8,642.5 1592.8,642.6 1594.8,642.5 1596.8,642.4 1598.8,642.4 1600.8,642.1 1602.8,641.6 1604.8,641.2 1606.8,641.1 1608.8,641.0 1610.8,640.8 1612.8,641.4 1614.8,642.1 1616.8,641.5 1618.8,640.5 1620.8,640.8 1622.8,641.5 1624.8,641.2 1626.8,640.6 1628.8,640.6 1630.8,641.0 1632.8,641.6 1634.8,641.5 1636.8,641.2 1638.8,641.3 1640.8,641.1 1642.8,641.0 1644.8,641.0 1646.8,640.9 1648.8,641.2 1650.8,641.6 1652.8,641.4 1654.8,640.8 1656.8,641.1 1658.8,641.4 1660.8,640.6 1662.8,640.2 1664.8,640.1 1666.8,640.1 1668.8,640.5 1670.8,641.3 1672.8,641.6 1674.8,641.5 1676.8,641.6 1678.8,641.4 1680.8,640.8 1682.8,641.1 1684.8,641.5 1686.8,641.3 1688.8,641.2 1690.8,641.4 1692.8,641.9 1694.8,641.9 1696.8,641.2 1698.8,641.6 1700.8,642.0 1702.8,641.2 1704.8,641.2 1706.8,642.4 1708.8,642.8 1710.8,642.2 1712.8,641.6 1714.8,641.9 1716.8,642.1 1718.8,642.1 1720.8,642.6 1722.8,642.9 1724.8,643.1 1726.8,643.3 1728.8,643.2 1730.8,642.9 1732.8,642.3 1734.8,641.9 1736.8,642.2 1738.8,642.5 1740.8,642.4 1742.8,642.6 1744.8,643.4 1746.8,644.3 1748.7,644.9 1750.7,645.2 1752.7,645.2 1754.7,645.2 1756.7,645.2 1758.7,644.7 1760.7,644.2 1762.7,644.4 1764.6,644.4 1766.6,644.5 1768.6,644.3 1770.5,643.5 1772.5,643.4 1774.5,642.8 1776.4,641.6 1778.4,641.2 1780.3,641.0 1782.2,640.2 1784.1,639.6 1786.0,638.7 1787.9,638.2 1789.9,638.5 1791.9,638.8 1793.9,638.7 1795.9,638.7 1797.9,638.6 1799.9,638.2 1801.9,638.0 1803.9,637.9 1805.9,637.9 1807.8,638.1 1809.8,639.0 1811.8,639.5 1813.8,639.2 1815.8,639.6 1817.8,640.1 1819.8,640.5 1821.8,640.9 1823.7,640.9 1825.7,640.6 1827.7,640.8 1829.7,641.2 1831.7,641.3 1833.6,641.7 1835.6,642.3 1837.6,642.4 1839.6,642.0 1841.6,642.0 1843.5,642.2 1845.5,642.8 1847.5,643.6 1849.5,643.7 1851.5,644.3 1853.5,644.9 1855.5,644.6 1857.5,644.6 1859.5,644.9 1861.4,645.2 1863.4,645.7 1865.4,646.0 1867.4,646.2 1869.4,645.7 1871.4,645.4 1873.4,645.7 1875.4,645.6 1877.4,646.0 1879.4,646.4 1881.4,646.5 1883.4,646.6 1885.4,646.1 1887.4,646.0 1889.4,646.9 1891.4,647.7 1893.4,647.6 1895.4,647.5 1897.3,647.8 1899.3,648.2 1901.3,648.1 1903.3,647.8 1905.2,647.9 1907.2,648.4 1909.2,649.0 1911.1,649.6 1913.1,650.4 1915.0,651.6 1917.0,651.8 1918.9,651.3 1920.8,652.1 1922.8,653.5 1924.7,654.1 1926.5,654.5 1928.4,655.5 1930.2,657.0 1932.0,657.9 1933.8,658.4 1935.5,659.2 1937.3,660.0 1939.0,660.7 1940.8,661.8 1942.4,662.6 1944.0,663.2 1945.6,664.9 1946.9,666.8 1948.2,668.4 1949.4,670.1 1950.5,672.1 1951.6,673.9 1952.6,675.3 1953.5,676.8 1954.5,678.2 1955.3,679.9 1956.1,682.0 1956.9,683.7 1957.7,686.0 1958.4,688.1 1959.0,689.4 1959.6,691.1 1960.1,693.4 1960.7,695.5 1961.2,697.9 1961.7,699.8 1962.1,701.2 1962.6,703.2 1963.0,705.4 1963.5,707.3 1963.9,709.0 1964.3,711.0 1964.7,713.3 1965.1,715.4 1965.4,717.0 1965.7,718.9 1966.1,721.1" fill="none" stroke="#B177DE" stroke-width="10.6" stroke-linejoin="round" stroke-linecap="butt" shape-rendering="crispEdges"/>
<polygon points="291.0,1700.3 316.7,1726.0 291.0,1751.7 265.3,1726.0" fill="#00FFFF"/>
<polygon points="391.1,577.3 416.8,603.0 391.1,628.7 365.4,603.0" fill="#00FFFF"/>
<polygon points="490.9,728.8 516.6,754.5 490.9,780.2 465.2,754.5" fill="#00FFFF"/>
<polygon points="591.3,709.3 617.0,735.0 591.3,760.7 565.6,735.0" fill="#00FFFF"/>
<polygon points="691.4,695.8 717.1,721.5 691.4,747.2 665.7,721.5" fill="#00FFFF"/>
<polygon points="791.4,687.9 817.1,713.6 791.4,739.3 765.7,713.6" fill="#00FFFF"/>
<polygon points="891.1,685.9 916.8,711.6 891.1,737.3 865.4,711.6" fill="#00FFFF"/>
<polygon points="991.7,683.3 1017.4,709.0 991.7,734.7 966.0,709.0" fill="#00FFFF"/>
<polygon points="1091.5,671.3 1117.2,697.0 1091.5,722.7 1065.8,697.0" fill="#00FFFF"/>
<polygon points="1191.9,649.4 1217.6,675.1 1191.9,700.8 1166.2,675.1" fill="#00FFFF"/>
<polygon points="1292.1,638.1 1317.8,663.8 1292.1,689.5 1266.4,663.8" fill="#00FFFF"/>
<polygon points="1392.3,632.7 1418.0,658.4 1392.3,684.1 1366.6,658.4" fill="#00FFFF"/>
<polygon points="1492.2,622.7 1517.9,648.4 1492.2,674.1 1466.5,648.4" fill="#00FFFF"/>
<polygon points="1593.3,616.0 1619.0,641.7 1593.3,667.4 1567.6,641.7" fill="#00FFFF"/>
<polygon points="1692.4,615.8 1718.1,641.5 1692.4,667.2 1666.7,641.5" fill="#00FFFF"/>
<polygon points="1793.0,612.1 1818.7,637.8 1793.0,663.5 1767.3,637.8" fill="#00FFFF"/>
<polygon points="1893.6,621.5 1919.3,647.2 1893.6,672.9 1867.9,647.2" fill="#00FFFF"/>
<polygon points="1985.6,1473.7 2011.3,1499.4 1985.6,1525.1 1959.9,1499.4" fill="#00FFFF"/>
<polyline points="1528.9,712.6 1529.3,715.1 1529.6,716.9 1529.9,718.7 1530.3,720.8 1530.6,722.8 1530.9,724.6 1534.1,744.4 1537.5,768.1 1538.5,776.1 1539.4,786.0 1539.8,794.0 1540.9,820.0 1544.8,902.0 1545.8,928.0 1546.6,954.0 1547.2,984.0 1547.7,1020.0 1548.9,1140.0 1549.4,1482.2 1549.4,1484.2 1549.4,1486.3 1549.4,1488.5 1549.4,1490.6 1549.6,1492.4 1550.1,1494.1 1551.4,1495.4 1553.3,1496.0 1555.3,1496.3 1557.3,1496.7 1559.3,1496.6 1561.3,1496.4 1563.3,1496.4 1565.3,1496.3 1617.3,1496.3" fill="none" stroke="#CC9900" stroke-width="9" stroke-linejoin="round" stroke-linecap="butt" shape-rendering="crispEdges"/>
<polyline points="290.5,1727.5 290.7,1727.3 290.8,1723.3 291.1,1699.3 294.6,1281.1 296.2,1153.1 298.7,977.0 300.8,813.0 301.9,741.0 303.3,674.9 306.1,566.9 306.4,558.9 307.3,542.9 309.1,484.9 309.9,467.0 310.4,459.0 311.1,451.0 312.2,441.1 313.4,433.1 315.5,421.3 317.6,411.6 319.3,405.8 320.1,404.0 321.1,402.2 322.5,400.8 324.4,400.5 325.9,401.7 328.1,405.1 330.8,410.4 331.7,412.2 332.5,414.0 333.3,415.9 334.2,418.0 335.0,419.8 335.9,421.1 336.7,422.7 337.5,425.0 338.4,427.0 339.2,428.8 340.0,431.3 340.8,433.2 341.7,434.6 342.5,436.6 343.3,438.4 344.1,440.0 344.9,441.9 345.7,443.6 346.5,445.3 347.4,446.7 348.2,448.2 349.0,450.5 349.9,452.7 350.7,454.3 351.6,456.0 352.4,458.4 353.3,460.2 354.1,461.3 355.0,463.0 355.8,465.2 356.6,466.6 357.4,468.0 358.1,470.1 358.9,472.2 359.6,474.3 360.3,476.3 361.0,478.3 361.6,480.3 362.3,482.1 362.9,483.7 363.6,485.1 364.2,486.6 364.8,488.7 365.5,490.9 366.1,493.6 366.8,496.0 367.4,497.6 368.1,499.5 368.7,501.4 369.4,502.9 370.0,504.9 370.6,506.9 371.3,508.5 372.0,510.5 372.6,512.6 373.3,513.9 374.0,515.5 374.6,517.5 375.3,519.0 376.1,521.1 376.8,523.5 377.5,525.7 378.3,528.0 379.0,529.4 379.8,530.6 380.6,532.9 381.3,535.1 382.1,536.1 382.8,537.8 383.5,540.3 384.2,542.4 384.9,544.2 385.6,546.1 386.3,548.4 386.9,550.3 387.6,551.8 388.2,553.9 388.8,555.9 389.5,557.3 390.1,558.6 390.7,560.5 391.4,563.1 392.0,564.8 392.7,566.2 393.4,568.2 394.0,569.9 394.7,571.9 395.5,574.4 396.2,576.6 396.9,578.7 397.7,580.3 398.4,581.2 399.2,583.0 399.9,585.5 400.7,587.4 401.5,588.6 402.2,590.5 403.0,592.5 403.8,594.2 404.5,596.4 405.3,598.2 406.1,600.2 406.8,602.5 407.6,604.0 408.4,605.6 409.1,607.6 409.9,609.3 410.7,611.3 411.5,613.0 412.2,614.5 413.0,616.5 413.8,618.1 414.6,619.8 415.4,621.7 416.2,623.8 417.0,626.4 417.9,628.6 418.7,629.8 419.5,631.1 420.4,632.9 421.2,634.5 422.1,635.8 422.9,637.8 423.8,640.0 424.7,641.5 425.5,643.3 426.4,645.5 427.3,646.8 428.1,648.7 429.0,651.2 429.9,653.1 430.8,654.8 431.7,656.4 432.6,658.4 433.5,660.6 434.4,662.1 435.3,663.3 436.2,665.3 437.1,667.3 438.1,668.8 439.0,670.3 440.0,671.9 440.9,673.9 441.9,676.1 442.8,677.6 443.8,678.8 444.8,680.4 445.8,682.3 446.8,684.2 447.9,686.3 448.9,687.9 450.0,690.2 451.0,692.5 452.1,693.6 453.2,694.8 454.3,696.6 455.4,698.1 456.6,699.8 457.7,702.0 458.9,703.6 460.0,704.4 461.2,705.8 462.5,707.4 463.7,708.8 464.9,710.5 466.2,712.6 467.5,714.0 468.8,714.9 470.1,716.3 471.3,718.3 472.6,720.4 473.9,722.6 475.2,724.2 476.6,725.4 477.9,726.4 479.2,727.2 480.6,729.0 482.0,731.2 483.4,732.2 484.8,733.0 486.2,734.7 487.5,736.3 488.9,737.6 490.3,738.7 491.8,739.9 493.2,741.3 494.7,742.7 496.2,744.6 497.7,746.6 499.3,747.5 500.9,748.3 502.6,749.8 504.3,751.2 506.1,752.2 507.9,753.1 509.7,753.8 511.5,753.9 513.3,754.6 515.1,755.5 516.9,756.2 518.7,757.4 520.5,758.9 522.4,759.7 524.2,760.2 526.1,760.5 528.0,761.0 529.9,761.3 531.8,762.2 533.7,763.3 535.7,763.3 537.6,763.3 539.5,763.6 541.5,764.2 543.4,764.9 545.4,765.4 547.3,766.1 549.3,767.2 551.3,767.6 553.2,767.4 555.2,767.4 557.1,767.4 559.1,767.7 561.1,768.6 563.1,769.2 565.1,769.0 567.0,769.0 569.0,769.6 571.0,770.5 573.0,771.0 575.0,770.7 577.0,770.4 578.9,770.5 580.9,770.9 582.9,771.4 584.9,771.9 586.9,772.1 588.9,771.8 590.8,772.3 592.8,773.8 594.8,774.0 596.8,773.5 598.8,774.2 600.8,774.5 602.8,774.0 604.8,774.1 606.8,774.2 608.8,773.7 610.8,773.4 612.8,774.0 614.8,774.4 616.8,774.0 618.8,774.5 620.8,774.4 622.8,773.6 624.8,773.4 626.8,772.9 628.8,773.1 630.8,773.9 632.8,774.0 634.7,773.5 636.7,772.3 638.7,771.5 640.6,771.2 642.6,771.0 644.5,771.0 646.5,770.7 648.4,770.0 650.3,769.7 652.3,769.0 654.2,768.0 656.2,767.8 658.1,767.8 660.1,767.4 662.0,766.7 664.0,765.9 665.9,765.3 667.8,765.1 669.8,764.8 671.7,764.2 673.6,763.6 675.5,763.1 677.5,762.3 679.4,761.4 681.3,761.2 683.2,760.6 685.0,759.2 686.9,758.2 688.8,758.3 690.7,758.0 692.5,756.5 694.4,755.0 696.2,754.5 698.1,754.2 700.0,753.1 701.8,752.4 703.7,752.3 705.6,751.7 707.4,750.1 709.3,749.4 711.2,749.6 713.0,748.6 714.9,747.6 716.8,747.2 718.6,746.5 720.5,745.9 722.4,745.1 724.3,744.3 726.2,744.0 728.1,743.4 730.0,743.0 731.9,742.5 733.8,741.5 735.7,741.0 737.6,740.2 739.5,739.3 741.4,738.7 743.3,737.9 745.3,737.1 747.2,736.4 749.1,735.8 751.1,735.9 753.0,735.7 754.9,735.3 756.9,735.2 758.9,734.5 760.8,733.5 762.8,733.1 764.8,732.9 766.8,732.4 768.7,731.9 770.7,732.0 772.7,732.5 774.6,732.0 776.6,731.4 778.5,731.4 780.5,730.8 782.4,730.1 784.3,729.7 786.3,728.7 788.2,727.9 790.1,727.8 792.0,727.6 793.9,726.9 795.8,725.8 797.7,725.0 799.6,725.0 801.5,725.0 803.4,723.9 805.3,722.8 807.2,722.3 809.1,721.1 811.0,719.7 812.9,719.6 814.8,719.9 816.8,719.6 818.7,718.7 820.6,717.8 822.5,717.2 824.5,716.4 826.4,715.8 828.3,715.8 830.3,716.0 832.2,715.7 834.1,714.7 836.0,713.8 838.0,713.3 839.9,712.5 841.8,711.7 843.8,711.3 845.7,711.5 847.7,711.0 849.6,709.9 851.6,709.4 853.5,709.5 855.5,709.4 857.5,709.0 859.4,708.2 861.4,707.3 863.4,707.3 865.4,708.0 867.4,708.2 869.4,707.4 871.4,706.7 873.4,707.1 875.3,707.5 877.3,706.8 879.3,705.8 881.3,705.4 883.3,705.8 885.3,706.0 887.3,705.5 889.3,704.9 891.3,705.0 893.2,704.9 895.2,703.9 897.2,703.2 899.2,703.0 901.2,702.9 903.2,703.0 905.1,702.7 907.1,703.1 909.1,703.3 911.1,702.8 913.1,702.6 915.1,702.1 917.1,701.6 919.1,702.0 921.0,702.3 923.0,701.8 925.0,700.9 927.0,700.2 929.0,700.0 931.0,700.2 933.0,700.0 935.0,699.8 937.0,699.6 939.0,699.2 941.0,699.4 943.0,700.0 945.0,700.2 947.0,700.1 949.0,699.8 951.0,699.1 953.0,698.4 955.0,698.0 956.9,698.0 958.9,698.4 960.8,698.4 962.7,697.9 964.6,696.8 966.5,695.9 968.4,695.3 970.3,695.1 972.2,694.2 974.1,692.7 976.0,692.0 977.9,692.3 979.8,692.0 981.7,691.5 983.6,690.8 985.6,689.5 987.5,688.2 989.4,687.6 991.4,687.3 993.3,687.3 995.2,686.9 997.2,686.1 999.1,686.0 1001.1,685.7 1003.0,684.6 1005.0,684.2 1007.0,684.3 1009.0,684.5 1010.9,684.3 1012.9,684.0 1014.9,684.0 1016.8,683.2 1018.7,681.5 1020.6,680.6 1022.6,680.3 1024.5,680.1 1026.5,680.5 1028.5,680.8 1030.5,680.8 1032.5,680.4 1034.5,679.8 1036.5,679.5 1038.5,679.1 1040.5,678.7 1042.5,678.9 1044.5,679.2 1046.5,679.1 1048.5,678.8 1050.5,678.9 1052.5,679.4 1054.5,679.9 1056.5,680.0 1058.5,679.6 1060.5,679.5 1062.5,679.3 1064.5,679.4 1066.5,679.7 1068.5,679.3 1070.5,679.0 1072.5,679.0 1074.5,678.3 1076.5,678.4 1078.5,678.8 1080.5,678.3 1082.5,678.2 1084.5,678.9 1086.5,678.7 1088.5,677.9 1090.4,677.8 1092.4,678.0 1094.4,677.5 1096.4,676.9 1098.4,676.2 1100.4,675.2 1102.3,674.9 1104.3,675.4 1106.3,675.5 1108.3,675.0 1110.2,674.4 1112.2,674.2 1114.2,673.8 1116.2,673.6 1118.1,673.4 1120.1,673.0 1122.1,672.7 1124.0,671.8 1126.0,671.0 1128.0,670.6 1129.9,670.1 1131.9,669.9 1133.8,669.4 1135.7,668.9 1137.7,668.6 1139.6,668.0 1141.5,668.2 1143.5,668.5 1145.4,668.1 1147.3,667.3 1149.3,666.2 1151.2,665.7 1153.2,665.5 1155.2,665.1 1157.2,665.0 1159.2,664.6 1161.2,663.9 1163.2,663.8 1165.1,664.2 1167.1,664.0 1169.1,663.6 1171.1,662.9 1173.1,662.3 1175.1,662.5 1177.1,662.7 1179.1,662.5 1181.1,662.4 1183.1,662.4 1185.1,662.0 1187.1,661.4 1189.1,661.6 1191.1,662.0 1193.1,662.0 1195.1,661.6 1197.0,661.2 1199.0,661.4 1201.0,661.5 1203.0,660.7 1205.0,659.9 1207.0,659.5 1209.0,659.4 1211.0,659.4 1212.9,659.4 1214.9,659.2 1216.9,658.9 1218.9,658.6 1220.9,658.5 1222.9,658.2 1224.8,657.8 1226.8,657.1 1228.7,656.0 1230.7,655.9 1232.7,656.4 1234.6,656.6 1236.6,656.4 1238.6,655.8 1240.5,654.9 1242.5,654.2 1244.5,653.6 1246.5,652.8 1248.4,652.2 1250.4,652.1 1252.4,652.1 1254.3,652.1 1256.3,652.1 1258.3,651.8 1260.3,652.0 1262.3,652.3 1264.3,651.7 1266.2,650.9 1268.2,650.4 1270.2,650.0 1272.2,649.9 1274.2,650.2 1276.2,650.1 1278.2,649.5 1280.2,648.6 1282.2,648.3 1284.2,648.3 1286.2,647.9 1288.2,647.8 1290.2,648.0 1292.2,647.9 1294.1,648.0 1296.1,648.2 1298.1,648.2 1300.1,648.4 1302.1,648.0 1304.1,647.4 1306.2,647.5 1308.2,647.6 1310.2,647.8 1312.2,647.9 1314.2,647.9 1316.2,648.7 1318.2,648.8 1320.2,648.2 1322.2,648.7 1324.2,649.3 1326.2,649.2 1328.2,648.6 1330.2,648.0 1332.2,648.5 1334.2,649.4 1336.2,649.5 1338.2,648.8 1340.2,648.5 1342.2,649.2 1344.2,649.5 1346.2,649.2 1348.2,648.6 1350.2,647.8 1352.2,647.6 1354.2,648.6 1356.2,649.2 1358.2,648.5 1360.2,647.8 1362.2,648.0 1364.2,648.5 1366.2,648.4 1368.2,648.1 1370.2,647.8 1372.1,647.8 1374.1,647.9 1376.1,647.9 1378.1,648.0 1380.1,647.6 1382.1,646.7 1384.1,646.3 1386.1,646.5 1388.1,646.7 1390.1,646.8 1392.1,647.0 1394.1,646.6 1396.1,646.0 1398.1,646.3 1400.1,646.6 1402.1,646.6 1404.1,646.8 1406.1,646.5 1408.1,645.7 1410.1,645.3 1412.1,645.6 1414.1,645.8 1416.1,645.3 1418.1,645.2 1420.1,645.8 1422.1,645.6 1424.1,645.3 1426.1,645.7 1428.1,645.7 1430.1,645.2 1432.1,644.6 1434.1,644.7 1436.1,645.3 1438.1,645.5 1440.1,645.5 1442.1,645.3 1444.1,645.6 1446.1,646.4 1448.1,646.9 1450.1,646.7 1452.1,646.4 1454.1,646.9 1456.0,647.7 1458.0,647.9 1460.0,647.8 1462.0,647.8 1464.0,647.6 1466.0,647.8 1468.0,647.7 1470.0,647.9 1471.9,648.5 1473.9,648.8 1475.9,649.1 1477.9,649.6 1479.9,649.7 1481.9,649.9 1483.8,650.4 1485.8,651.2 1487.8,651.7 1489.7,651.3 1491.7,651.7 1493.6,652.6 1495.6,653.2 1497.5,653.9 1499.4,654.1 1501.2,654.3 1502.9,655.5 1504.7,656.9 1506.3,657.8 1507.9,658.9 1509.4,660.2 1510.6,662.0 1511.8,663.9 1512.9,666.0 1513.9,668.3 1514.9,669.8 1515.7,670.8 1516.6,672.1 1517.4,674.4 1518.3,676.6 1519.0,677.8 1519.8,679.6 1520.6,682.0 1521.4,683.4 1522.2,684.7 1523.0,687.0 1523.7,689.7 1524.3,691.9 1524.9,693.9 1525.4,695.7 1525.9,697.2 1526.3,698.8 1526.7,700.8 1527.1,703.0 1527.5,704.4 1527.9,706.1 1528.2,708.5 1528.6,710.4 1528.9,712.6 1529.3,715.1 1529.6,716.9" fill="none" stroke="#CC9900" stroke-width="10.6" stroke-linejoin="round" stroke-linecap="butt" shape-rendering="crispEdges"/>
<polygon points="261.9,1726.0 305.6,1700.8 305.6,1751.2" fill="#FF00FF"/>
<polygon points="365.2,571.0 408.9,545.8 408.9,596.2" fill="#FF00FF"/>
<polygon points="469.1,746.5 512.8,721.3 512.8,771.7" fill="#FF00FF"/>
<polygon points="571.9,773.7 615.5,748.5 615.5,798.9" fill="#FF00FF"/>
<polygon points="675.0,752.0 718.6,726.8 718.6,777.2" fill="#FF00FF"/>
<polygon points="778.1,722.0 821.8,696.8 821.8,747.2" fill="#FF00FF"/>
<polygon points="882.6,702.1 926.2,676.9 926.2,727.3" fill="#FF00FF"/>
<polygon points="985.5,683.4 1029.2,658.2 1029.2,708.6" fill="#FF00FF"/>
<polygon points="1088.6,673.3 1132.2,648.1 1132.2,698.5" fill="#FF00FF"/>
<polygon points="1191.7,658.4 1235.3,633.2 1235.3,683.6" fill="#FF00FF"/>
<polygon points="1295.8,648.4 1339.5,623.2 1339.5,673.6" fill="#FF00FF"/>
<polygon points="1398.1,645.2 1441.8,620.0 1441.8,670.4" fill="#FF00FF"/>
<polygon points="1502.5,713.3 1546.1,688.1 1546.1,738.5" fill="#FF00FF"/>
<polygon points="1588.2,1496.0 1631.8,1470.8 1631.8,1521.2" fill="#FF00FF"/>
<polyline points="1833.4,602.4 1833.8,604.2 1834.1,606.1 1834.4,607.9 1834.7,609.8 1835.0,611.7 1835.4,613.7 1836.2,619.7 1837.6,631.6 1839.9,657.5 1849.8,755.0 1852.9,786.9 1853.5,794.8 1854.2,804.8 1855.7,838.8 1857.4,888.8 1859.1,944.7 1860.4,998.7 1861.6,1056.7 1862.4,1114.7 1863.1,1176.7 1863.8,1334.7 1863.8,1336.8 1863.9,1338.7 1863.9,1340.6 1864.0,1342.6 1864.0,1344.6 1865.3,1346.1 1866.8,1348.0 1868.3,1349.7 1869.8,1351.1 1871.3,1352.2 1872.8,1353.4 1874.3,1354.6" fill="none" stroke="#00CBCC" stroke-width="9" stroke-linejoin="round" stroke-linecap="butt" shape-rendering="crispEdges"/>
<polyline points="290.5,1727.5 290.7,1727.3 290.9,1717.3 291.2,1675.3 293.8,1321.3 294.5,1239.3 299.9,775.3 300.9,707.3 302.1,649.3 305.2,513.3 307.5,421.3 308.1,401.3 309.0,383.3 310.4,337.4 311.2,315.4 312.1,299.4 313.8,283.5 315.6,271.6 318.2,257.9 320.1,250.1 321.4,246.3 322.2,244.5 323.2,242.7 324.8,241.9 326.7,242.5 328.2,243.8 329.6,245.3 330.7,246.9 331.7,248.6 332.7,250.4 333.6,251.9 334.4,253.6 335.3,255.8 336.1,258.1 336.9,259.9 337.7,261.4 338.4,263.3 339.1,265.7 339.9,267.6 340.5,269.3 341.2,271.0 341.9,272.3 342.5,273.7 343.2,276.0 343.8,278.7 344.4,280.8 345.0,282.4 345.6,284.0 346.2,285.5 346.7,287.5 347.3,289.6 347.9,291.3 348.4,293.1 348.9,295.5 349.5,297.8 350.0,299.8 350.6,301.7 351.1,303.5 351.6,305.6 352.1,307.7 352.7,309.5 353.2,311.2 353.7,312.8 354.2,314.2 354.8,316.2 355.3,318.8 355.8,320.4 356.3,321.8 356.8,324.6 357.4,327.2 357.9,329.3 358.4,331.4 359.0,333.1 359.5,334.1 360.0,335.3 360.5,336.9 361.1,339.3 361.6,342.1 362.2,344.0 362.7,345.4 363.3,347.8 363.8,350.2 364.4,351.6 365.0,352.6 365.6,354.5 366.2,357.2 366.7,359.3 367.3,360.7 367.9,362.2 368.5,364.3 369.1,367.3 369.7,369.7 370.3,371.6 370.9,373.1 371.5,374.7 372.2,376.4 372.8,378.0 373.4,379.8 374.0,381.6 374.6,383.7 375.3,386.1 375.9,388.0 376.5,390.1 377.1,391.7 377.8,392.9 378.4,394.4 379.0,396.3 379.6,399.0 380.3,401.2 380.9,402.6 381.5,404.8 382.2,407.2 382.8,409.0 383.5,411.2 384.1,413.0 384.8,414.5 385.4,415.9 386.1,417.4 386.8,419.7 387.4,421.9 388.1,423.1 388.7,424.3 389.4,426.1 390.0,428.3 390.7,430.8 391.3,433.3 391.9,435.1 392.5,436.8 393.1,438.4 393.7,440.3 394.3,442.7 394.9,444.7 395.6,446.1 396.2,448.1 396.9,450.7 397.6,452.6 398.3,453.8 399.0,455.5 399.7,457.4 400.4,459.2 401.1,461.7 401.8,463.9 402.5,465.2 403.2,466.6 403.9,468.4 404.6,470.9 405.3,473.4 406.0,474.7 406.7,475.9 407.4,477.9 408.1,480.4 408.8,482.6 409.5,484.1 410.2,485.9 410.9,487.8 411.6,489.5 412.3,491.7 412.9,493.4 413.6,495.1 414.3,497.2 415.0,498.5 415.7,500.0 416.3,502.2 417.0,504.4 417.8,506.0 418.5,507.8 419.2,509.8 419.9,511.7 420.7,513.6 421.4,516.2 422.1,518.3 422.9,519.4 423.7,521.0 424.4,523.4 425.2,525.1 426.0,526.5 426.7,528.8 427.5,531.3 428.3,533.0 429.1,534.6 429.8,536.5 430.6,538.0 431.5,539.2 432.3,541.1 433.1,543.4 434.0,545.5 434.9,547.6 435.9,549.0 436.9,550.1 437.9,552.0 438.9,554.1 440.0,555.5 441.0,557.1 442.1,559.4 443.1,560.8 444.1,562.1 445.2,563.8 446.2,565.4 447.3,567.2 448.3,569.5 449.4,571.4 450.5,572.4 451.6,573.6 452.8,575.5 453.9,577.3 455.1,578.8 456.2,580.5 457.5,582.3 458.7,583.3 460.1,584.7 461.4,587.0 462.8,588.6 464.3,589.2 465.9,590.3 467.4,592.3 469.1,593.7 470.8,594.3 472.5,594.9 474.4,595.9 476.2,596.9 478.1,597.6 480.0,598.2 481.9,599.0 483.8,599.3 485.8,599.1 487.8,599.7 489.8,600.5 491.8,600.3 493.8,599.7 495.8,599.1 497.7,598.4 499.7,598.5 501.7,598.5 503.7,598.1 505.6,598.3 507.6,598.2 509.6,597.3 511.5,596.1 513.5,595.3 515.5,595.4 517.4,595.6 519.4,595.4 521.4,595.0 523.4,594.6 525.3,594.7 527.3,594.8 529.3,594.0 531.3,592.8 533.3,592.1 535.2,591.6 537.2,591.6 539.2,592.1 541.2,592.2 543.1,591.7 545.1,591.0 547.1,590.9 549.1,591.5 551.1,591.1 553.0,590.1 555.0,590.0 557.0,589.5 559.0,588.7 561.0,588.7 563.0,588.4 564.9,588.4 566.9,589.0 568.9,588.3 570.9,587.4 572.9,587.2 574.9,587.1 576.9,587.5 578.9,587.5 580.8,586.7 582.8,585.6 584.8,585.3 586.8,585.5 588.7,585.6 590.7,585.2 592.6,584.2 594.5,583.2 596.3,582.4 598.2,582.4 600.1,582.1 601.9,581.0 603.8,580.1 605.6,579.3 607.5,578.9 609.4,578.0 611.3,577.0 613.2,577.2 615.1,576.8 617.1,575.4 619.1,574.7 621.1,574.8 623.1,575.6 625.1,576.3 627.1,576.2 629.1,575.4 631.1,575.1 633.1,575.9 635.0,576.3 637.0,576.2 639.0,577.0 641.0,577.3 643.0,576.6 645.0,576.8 647.0,577.3 649.0,576.8 651.0,576.4 653.0,577.0 655.0,577.5 657.0,577.1 659.0,577.1 661.0,578.0 663.0,578.6 665.0,578.5 667.0,578.3 669.0,578.2 671.0,577.7 673.0,577.4 675.0,577.6 677.0,577.5 679.0,577.1 681.0,577.3 683.0,577.9 685.0,577.6 687.0,577.6 689.0,577.8 691.0,577.2 693.0,576.9 695.0,576.7 697.0,576.0 699.0,575.9 701.0,576.4 703.0,576.1 704.9,575.5 706.9,575.7 708.9,576.2 710.9,576.1 712.9,575.3 714.9,574.8 716.8,574.7 718.8,574.3 720.8,573.8 722.7,573.5 724.7,573.8 726.7,573.6 728.7,572.8 730.6,572.4 732.6,572.5 734.6,572.6 736.6,572.5 738.6,572.1 740.6,571.6 742.6,571.8 744.6,572.2 746.6,572.3 748.6,572.4 750.6,571.9 752.6,571.4 754.6,571.5 756.5,570.9 758.5,570.3 760.4,570.1 762.3,569.4 764.2,568.4 766.1,568.0 767.9,567.2 769.8,566.0 771.7,565.6 773.6,565.9 775.6,565.6 777.5,564.5 779.5,564.0 781.5,563.9 783.5,562.9 785.5,562.4 787.5,563.0 789.5,562.9 791.5,562.2 793.5,561.9 795.5,562.0 797.5,562.1 799.5,562.0 801.5,561.9 803.5,562.0 805.5,562.1 807.5,562.4 809.5,562.8 811.5,562.4 813.5,562.1 815.5,562.6 817.5,562.7 819.5,561.7 821.4,561.0 823.4,561.4 825.3,561.6 827.3,561.3 829.2,560.4 831.1,559.3 832.9,558.1 834.8,556.9 836.7,556.5 838.6,556.6 840.5,556.0 842.4,554.8 844.4,553.9 846.3,553.9 848.2,553.7 850.2,552.7 852.1,551.8 854.1,551.7 856.0,551.6 858.0,551.6 859.9,551.2 861.9,551.0 863.9,551.2 865.8,550.5 867.8,549.1 869.8,548.6 871.7,548.4 873.7,548.2 875.7,548.6 877.7,548.5 879.7,548.0 881.7,548.1 883.6,547.5 885.6,546.9 887.6,547.0 889.6,547.2 891.6,547.3 893.6,547.4 895.6,547.0 897.6,546.1 899.6,545.3 901.6,544.9 903.6,544.8 905.5,544.6 907.5,544.7 909.5,544.9 911.5,544.2 913.5,544.0 915.5,544.7 917.5,544.7 919.5,544.5 921.5,544.4 923.5,543.7 925.5,543.3 927.5,543.3 929.5,543.2 931.5,543.8 933.5,544.3 935.5,544.2 937.5,543.4 939.4,542.4 941.4,542.4 943.4,543.1 945.4,543.0 947.4,542.5 949.4,541.9 951.4,541.2 953.4,540.7 955.4,540.8 957.4,541.3 959.4,541.5 961.4,541.3 963.4,540.9 965.4,541.2 967.4,541.0 969.4,540.7 971.4,541.3 973.4,541.9 975.4,542.0 977.4,542.1 979.4,542.2 981.4,542.1 983.4,542.0 985.4,542.2 987.4,541.8 989.4,541.6 991.4,541.9 993.4,541.4 995.4,541.2 997.4,541.6 999.4,541.4 1001.4,540.5 1003.3,540.0 1005.3,540.4 1007.3,540.8 1009.3,540.5 1011.3,540.1 1013.3,540.4 1015.3,540.6 1017.3,540.5 1019.3,540.2 1021.3,539.7 1023.3,539.6 1025.3,539.3 1027.3,538.8 1029.3,538.9 1031.3,539.2 1033.3,538.7 1035.3,537.8 1037.2,537.9 1039.2,538.7 1041.2,538.3 1043.2,537.4 1045.2,537.6 1047.2,538.2 1049.2,538.1 1051.2,537.2 1053.2,536.3 1055.2,535.9 1057.2,535.7 1059.2,535.6 1061.2,535.8 1063.2,536.5 1065.2,536.6 1067.2,536.4 1069.2,536.2 1071.2,535.3 1073.2,535.0 1075.2,535.5 1077.2,535.2 1079.1,534.9 1081.1,535.3 1083.1,535.1 1085.1,534.4 1087.0,533.9 1089.0,533.3 1091.0,532.5 1092.9,532.2 1094.9,532.4 1096.8,532.1 1098.8,531.2 1100.7,530.2 1102.7,530.3 1104.6,530.9 1106.6,530.7 1108.5,529.5 1110.4,527.9 1112.4,527.0 1114.3,527.2 1116.3,527.2 1118.2,526.3 1120.2,525.5 1122.1,525.4 1124.1,525.5 1126.0,525.3 1128.0,524.7 1129.9,523.4 1131.9,522.9 1133.8,523.1 1135.8,522.7 1137.8,522.6 1139.7,522.3 1141.7,521.4 1143.7,521.3 1145.7,521.3 1147.7,521.1 1149.7,521.1 1151.7,520.4 1153.7,520.1 1155.7,520.4 1157.7,520.5 1159.7,520.9 1161.7,520.3 1163.7,519.4 1165.7,519.4 1167.7,520.2 1169.7,520.4 1171.7,519.7 1173.7,519.5 1175.7,519.8 1177.6,520.0 1179.6,519.7 1181.6,519.1 1183.6,519.0 1185.6,519.6 1187.6,519.4 1189.6,518.9 1191.6,518.4 1193.5,517.8 1195.5,517.8 1197.5,517.7 1199.4,517.0 1201.3,516.0 1203.3,515.3 1205.2,515.4 1207.2,515.1 1209.1,514.4 1211.1,513.6 1213.0,513.1 1215.0,513.1 1217.0,512.9 1218.9,512.1 1220.9,511.6 1222.9,511.4 1224.9,511.3 1226.9,511.0 1228.9,510.2 1230.8,509.6 1232.8,509.7 1234.8,510.2 1236.8,510.2 1238.8,509.5 1240.8,509.2 1242.8,508.9 1244.8,508.8 1246.8,508.6 1248.8,508.4 1250.8,508.5 1252.8,508.3 1254.8,508.2 1256.7,508.1 1258.7,508.2 1260.7,508.2 1262.7,508.0 1264.7,507.7 1266.7,507.3 1268.7,507.0 1270.6,505.9 1272.6,505.0 1274.6,505.2 1276.6,505.6 1278.6,505.1 1280.5,504.8 1282.5,504.7 1284.5,504.2 1286.5,504.2 1288.5,504.0 1290.5,503.9 1292.5,504.3 1294.5,503.8 1296.5,503.4 1298.5,503.9 1300.5,503.8 1302.4,502.8 1304.4,502.7 1306.4,503.3 1308.4,503.1 1310.4,502.7 1312.4,502.8 1314.4,502.8 1316.4,502.7 1318.4,502.6 1320.4,502.1 1322.4,501.5 1324.4,502.0 1326.4,502.6 1328.4,502.3 1330.4,501.8 1332.3,502.2 1334.0,503.7 1335.7,504.7 1337.7,504.4 1339.7,504.2 1341.6,503.8 1343.6,503.1 1345.5,502.5 1347.4,501.8 1349.3,500.9 1351.2,500.3 1353.1,500.5 1355.0,500.3 1356.9,499.5 1358.8,498.9 1360.6,498.7 1362.5,498.1 1364.5,497.3 1366.4,496.7 1368.4,496.0 1370.4,495.1 1372.4,494.5 1374.4,494.3 1376.4,494.5 1378.4,495.2 1380.4,495.1 1382.4,494.8 1384.4,495.2 1386.4,495.2 1388.4,494.6 1390.4,494.5 1392.4,494.6 1394.4,494.1 1396.4,493.8 1398.4,494.2 1400.4,494.4 1402.3,494.7 1404.3,494.5 1406.3,493.9 1408.3,493.9 1410.3,494.2 1412.3,494.4 1414.3,494.4 1416.3,494.5 1418.3,494.5 1420.3,493.8 1422.3,493.0 1424.3,493.1 1426.3,493.6 1428.3,493.8 1430.3,493.5 1432.3,492.5 1434.3,491.9 1436.3,492.2 1438.3,492.2 1440.3,491.8 1442.3,491.3 1444.3,491.3 1446.3,491.5 1448.3,490.9 1450.3,490.6 1452.3,490.9 1454.3,491.6 1456.3,491.8 1458.2,491.3 1460.2,491.2 1462.2,491.2 1464.2,490.7 1466.2,490.2 1468.2,489.9 1470.2,489.8 1472.2,489.4 1474.2,489.3 1476.2,489.9 1478.2,490.1 1480.2,490.4 1482.2,490.3 1484.2,490.0 1486.2,490.2 1488.2,490.0 1490.2,489.6 1492.2,489.6 1494.2,489.0 1496.2,488.8 1498.2,489.2 1500.2,488.8 1502.2,489.0 1504.2,489.3 1506.2,489.1 1508.2,489.2 1510.2,489.4 1512.2,489.0 1514.2,488.7 1516.2,489.1 1518.2,489.2 1520.2,488.9 1522.2,489.5 1524.2,489.6 1526.2,489.1 1528.2,489.6 1530.2,489.4 1532.2,488.6 1534.2,489.1 1536.2,489.7 1538.2,489.2 1540.2,488.4 1542.2,488.4 1544.2,488.7 1546.2,488.6 1548.2,488.3 1550.2,487.9 1552.2,487.7 1554.2,488.1 1556.2,488.5 1558.2,489.0 1560.2,489.0 1562.2,488.1 1564.2,488.2 1566.2,489.0 1568.2,488.8 1570.2,488.1 1572.2,487.9 1574.2,488.0 1576.2,488.2 1578.2,488.0 1580.2,487.8 1582.2,487.8 1584.2,487.4 1586.2,487.0 1588.2,486.7 1590.2,486.8 1592.2,486.9 1594.2,486.8 1596.1,486.6 1598.1,486.6 1600.1,486.7 1602.1,486.7 1604.1,486.0 1606.1,485.5 1608.1,485.4 1610.1,485.0 1612.0,484.4 1614.0,484.1 1616.0,484.0 1618.0,483.9 1620.0,484.3 1622.0,484.8 1624.0,484.7 1626.0,484.1 1628.0,483.0 1630.0,482.4 1632.0,482.7 1634.0,483.0 1636.0,482.6 1638.0,482.9 1640.0,483.8 1642.0,483.4 1644.0,483.1 1645.9,484.2 1647.7,485.4 1649.1,486.4 1650.2,487.7 1651.7,489.0 1653.4,490.0 1655.4,491.4 1657.3,491.9 1659.3,491.4 1661.3,492.0 1663.3,492.8 1665.3,492.5 1667.3,491.8 1669.3,491.8 1671.2,492.1 1673.2,492.4 1675.2,493.1 1677.2,493.1 1679.2,493.0 1681.2,493.1 1683.2,492.8 1685.2,492.8 1687.2,492.5 1689.2,492.2 1691.2,492.4 1693.1,491.9 1695.0,490.7 1696.9,489.9 1698.8,489.6 1700.6,489.5 1702.5,489.1 1704.4,488.6 1706.4,488.0 1708.3,487.1 1710.2,486.3 1712.1,485.8 1714.1,485.3 1716.0,485.1 1718.0,484.7 1720.0,483.8 1721.9,483.2 1723.9,483.5 1725.9,484.0 1727.9,483.9 1729.9,483.6 1731.8,484.1 1733.7,485.5 1735.6,486.3 1737.5,486.8 1739.4,488.0 1741.3,488.6 1743.2,488.4 1745.1,489.0 1747.1,489.3 1749.0,489.2 1751.0,489.7 1752.9,490.2 1754.8,490.8 1756.8,491.8 1758.7,492.3 1760.7,492.7 1762.7,493.8 1764.6,494.3 1766.6,493.8 1768.6,493.7 1770.6,494.0 1772.6,494.3 1774.6,494.5 1776.6,494.0 1778.6,493.4 1780.6,493.4 1782.6,493.8 1784.5,494.8 1786.4,496.4 1788.2,497.5 1789.9,498.4 1791.6,499.8 1793.1,500.8 1794.6,501.7 1796.1,502.4 1797.5,503.9 1798.8,506.1 1800.2,507.7 1801.5,508.7 1802.8,509.9 1804.2,511.3 1805.5,512.9 1806.8,515.1 1808.0,517.4 1809.2,519.0 1810.3,519.7 1811.5,520.5 1812.5,522.5 1813.5,525.1 1814.5,527.0 1815.4,528.3 1816.2,530.6 1817.0,532.4 1817.8,533.8 1818.5,536.0 1819.2,538.2 1819.8,540.1 1820.4,541.9 1821.1,543.9 1821.6,546.0 1822.2,547.6 1822.8,549.0 1823.3,551.0 1823.8,553.2 1824.3,554.7 1824.8,556.1 1825.3,557.9 1825.7,560.2 1826.1,562.3 1826.5,564.1 1826.9,566.2 1827.3,568.5 1827.7,570.5 1828.1,572.7 1828.4,574.4 1828.8,576.2 1829.2,578.5 1829.5,580.4 1829.9,581.9 1830.2,584.0 1830.6,586.4 1831.0,587.9 1831.3,589.7 1831.7,592.4 1832.1,594.6 1832.4,595.7 1832.7,597.5 1833.1,600.2 1833.4,602.4 1833.8,604.2 1834.1,606.1" fill="none" stroke="#00CBCC" stroke-width="10.6" stroke-linejoin="round" stroke-linecap="butt" shape-rendering="crispEdges"/>
<polygon points="320.1,1726.0 276.4,1700.8 276.4,1751.2" fill="#FFFF00"/>
<polygon points="419.1,428.3 375.4,403.1 375.4,453.5" fill="#FFFF00"/>
<polygon points="518.9,599.7 475.2,574.5 475.2,624.9" fill="#FFFF00"/>
<polygon points="618.7,585.3 575.1,560.1 575.1,610.5" fill="#FFFF00"/>
<polygon points="718.5,577.3 674.9,552.1 674.9,602.5" fill="#FFFF00"/>
<polygon points="818.1,563.2 774.5,538.0 774.5,588.4" fill="#FFFF00"/>
<polygon points="917.7,546.8 874.1,521.6 874.1,572.0" fill="#FFFF00"/>
<polygon points="1018.1,541.6 974.5,516.4 974.5,566.8" fill="#FFFF00"/>
<polygon points="1117.9,533.6 1074.2,508.4 1074.2,558.8" fill="#FFFF00"/>
<polygon points="1217.0,518.6 1173.4,493.4 1173.4,543.8" fill="#FFFF00"/>
<polygon points="1317.1,504.4 1273.5,479.2 1273.5,529.6" fill="#FFFF00"/>
<polygon points="1417.0,494.9 1373.4,469.7 1373.4,520.1" fill="#FFFF00"/>
<polygon points="1516.8,489.4 1473.2,464.2 1473.2,514.6" fill="#FFFF00"/>
<polygon points="1616.2,487.4 1572.5,462.2 1572.5,512.6" fill="#FFFF00"/>
<polygon points="1715.3,492.9 1671.7,467.7 1671.7,518.1" fill="#FFFF00"/>
<polygon points="1815.9,496.1 1772.2,470.9 1772.2,521.3" fill="#FFFF00"/>
<polygon points="1903.4,1354.1 1859.8,1328.9 1859.8,1379.3" fill="#FFFF00"/>
</g>
<line x1="1616" y1="96.5" x2="1715" y2="96.5" stroke="#515151" stroke-width="9"/>
<rect x="1646.0" y="77.0" width="39.0" height="39.0" fill="#000000"/>
<text class="leg" transform="translate(1714.5 110.4) scale(0.989 1)">5% FA/HDPE</text>
<line x1="1616" y1="150.5" x2="1715" y2="150.5" stroke="#F14040" stroke-width="9"/>
<circle cx="1665.5" cy="150.5" r="21.5" fill="#FF0000"/>
<text class="leg" transform="translate(1714.5 164.4) scale(0.989 1)">10% FA/HDPE</text>
<line x1="1616" y1="203.5" x2="1715" y2="203.5" stroke="#1A6FDF" stroke-width="9"/>
<polygon points="1665.5,174.1 1640.0,218.2 1691.0,218.2" fill="#00FF00"/>
<text class="leg" transform="translate(1714.5 217.4) scale(0.982 1)">10% FA/5% compatibilizer/HDPE</text>
<line x1="1616" y1="257.5" x2="1715" y2="257.5" stroke="#37AD6B" stroke-width="9"/>
<polygon points="1665.5,286.9 1640.0,242.8 1691.0,242.8" fill="#0000FF"/>
<text class="leg" transform="translate(1714.5 271.4) scale(0.982 1)">10% FA/10% compatibilizer/HDPE</text>
<line x1="1616" y1="311.5" x2="1715" y2="311.5" stroke="#B177DE" stroke-width="9"/>
<polygon points="1665.5,285.5 1691.5,311.5 1665.5,337.5 1639.5,311.5" fill="#00FFFF"/>
<text class="leg" transform="translate(1714.5 325.4) scale(0.982 1)">10% FA/15% compatibilizer/HDPE</text>
<line x1="1616" y1="364.5" x2="1715" y2="364.5" stroke="#CC9900" stroke-width="9"/>
<polygon points="1636.1,364.5 1680.2,339.0 1680.2,390.0" fill="#FF00FF"/>
<text class="leg" transform="translate(1714.5 378.4) scale(0.989 1)">15% FA/HDPE</text>
<line x1="1616" y1="418.5" x2="1715" y2="418.5" stroke="#00CBCC" stroke-width="9"/>
<polygon points="1694.9,418.5 1650.8,393.0 1650.8,444.0" fill="#FFFF00"/>
<text class="leg" transform="translate(1714.5 432.4) scale(0.989 1)">20% FA/HDPE</text>
</svg></body></html>
